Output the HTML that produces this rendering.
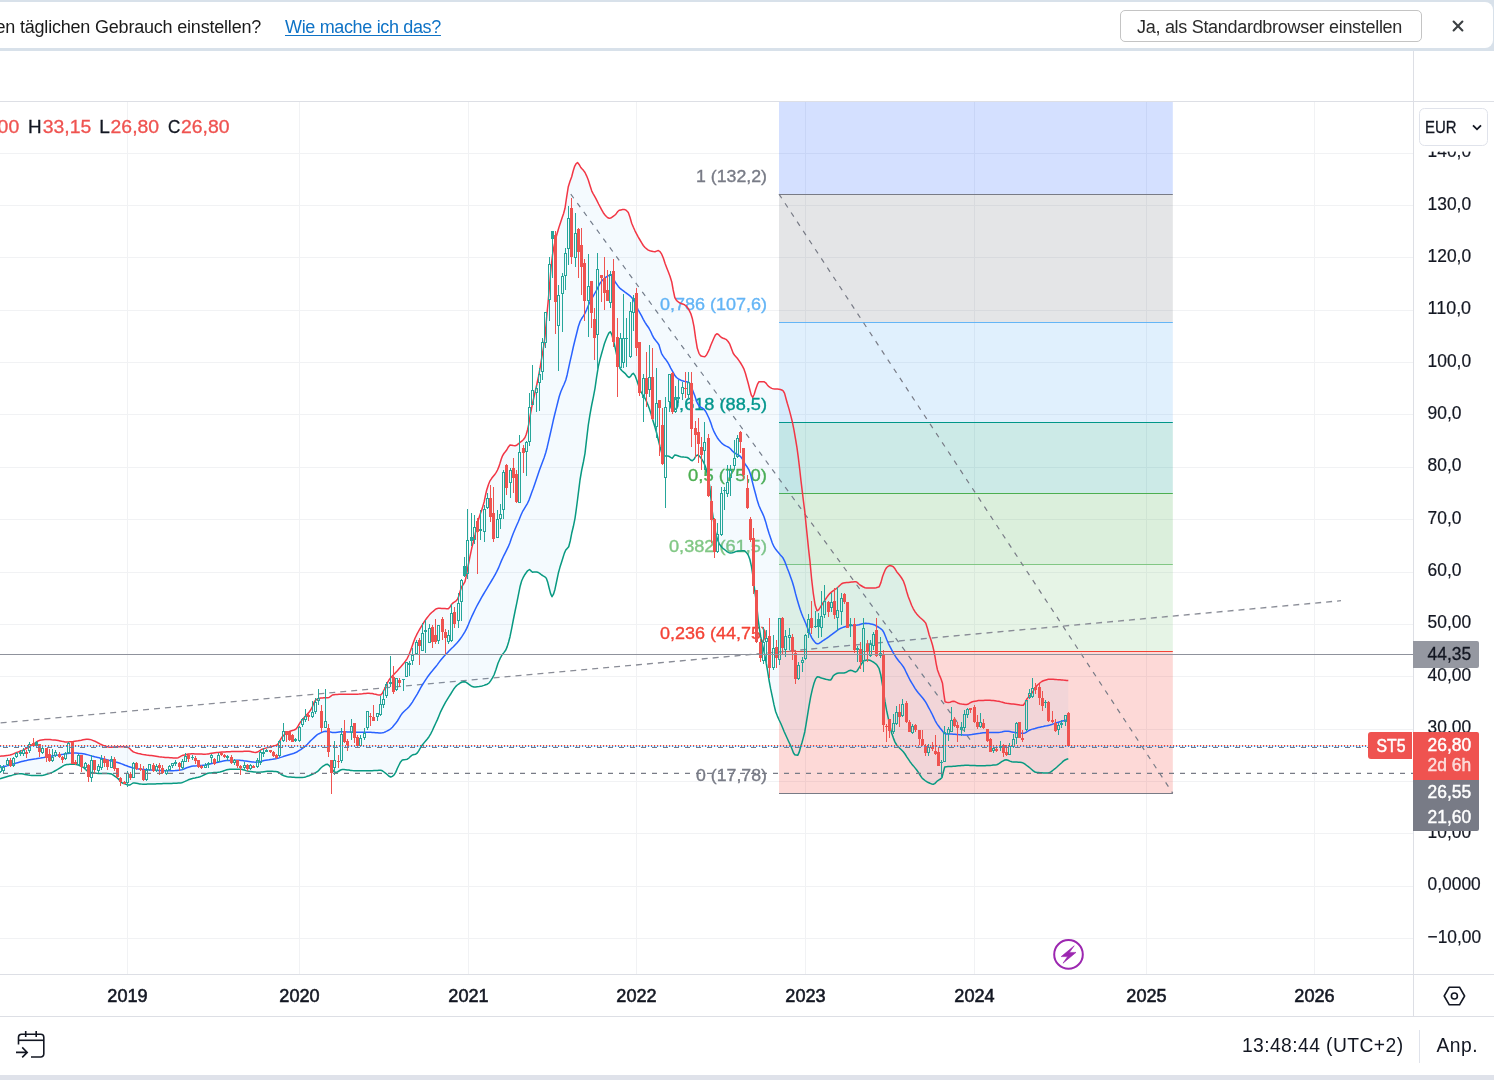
<!DOCTYPE html>
<html lang="de"><head><meta charset="utf-8"><title>ST5 Chart</title>
<style>
html,body{margin:0;padding:0;background:#fff;overflow:hidden;}
body{width:1494px;height:1080px;overflow:hidden;position:relative;font-family:"Liberation Sans", Arial, sans-serif;color:#131722;}
#chart{position:absolute;left:0;top:0;}
#topbar{position:absolute;left:0;top:0;width:1494px;height:51px;background:#d8e1ea;z-index:2;}
#topbar .card{position:absolute;left:-12px;top:2px;width:1505px;height:46px;background:#fff;border-radius:8px;}
#topbar .msg{position:absolute;left:-4.5px;top:15px;font-size:18px;line-height:24px;color:#1b1b1b;white-space:nowrap;letter-spacing:-0.2px;}
#topbar a{position:absolute;left:285px;top:15px;font-size:18px;line-height:24px;color:#0f73c6;text-decoration:underline;white-space:nowrap;text-underline-offset:2px;letter-spacing:-0.34px;}
#topbar .btn{position:absolute;left:1119.5px;top:9.5px;width:300px;height:30.5px;border:1px solid #c4c4c4;border-radius:5px;background:#fff;font-size:18px;line-height:32px;text-align:left;padding-left:0;text-indent:16.6px;color:#2b2b2b;white-space:nowrap;letter-spacing:-0.3px;overflow:hidden;}
#topbar .x{position:absolute;left:1452.2px;top:20.2px;width:12px;height:12px;}
#bottombar{position:absolute;left:0;top:1017px;width:1494px;height:58px;background:#fff;z-index:2;}
#bottombar .clock{position:absolute;right:90.5px;top:17px;font-size:19.3px;line-height:24px;white-space:nowrap;letter-spacing:0.42px;}
#bottombar .sep{position:absolute;left:1419px;top:13px;width:1px;height:33px;background:#e0e3eb;}
#bottombar .anp{position:absolute;left:1436.5px;top:17px;font-size:19.3px;line-height:24px;letter-spacing:0.5px;}
#bottombar svg{position:absolute;left:14px;top:12px;}
#strip{position:absolute;left:0;top:1075px;width:1494px;height:5px;background:#dfe2ea;z-index:2;}
</style></head>
<body>
<svg id="chart" width="1494" height="1080" viewBox="0 0 1494 1080" font-family='"Liberation Sans", Arial, sans-serif'>
<defs>
<clipPath id="pane"><rect x="0" y="101.5" width="1413" height="873.5"/></clipPath>
</defs>
<g id="grid" fill="#f1f2f4" shape-rendering="crispEdges">
<rect x="0" y="153" width="1413" height="1"/>
<rect x="0" y="205" width="1413" height="1"/>
<rect x="0" y="257" width="1413" height="1"/>
<rect x="0" y="310" width="1413" height="1"/>
<rect x="0" y="362" width="1413" height="1"/>
<rect x="0" y="414" width="1413" height="1"/>
<rect x="0" y="467" width="1413" height="1"/>
<rect x="0" y="519" width="1413" height="1"/>
<rect x="0" y="572" width="1413" height="1"/>
<rect x="0" y="624" width="1413" height="1"/>
<rect x="0" y="676" width="1413" height="1"/>
<rect x="0" y="729" width="1413" height="1"/>
<rect x="0" y="781" width="1413" height="1"/>
<rect x="0" y="833" width="1413" height="1"/>
<rect x="0" y="886" width="1413" height="1"/>
<rect x="0" y="938" width="1413" height="1"/>
<rect x="127" y="102" width="1" height="873"/>
<rect x="299" y="102" width="1" height="873"/>
<rect x="468" y="102" width="1" height="873"/>
<rect x="636" y="102" width="1" height="873"/>
<rect x="805" y="102" width="1" height="873"/>
<rect x="974" y="102" width="1" height="873"/>
<rect x="1146" y="102" width="1" height="873"/>
<rect x="1314" y="102" width="1" height="873"/>
</g>
<g id="axis-prices">
<text x="1427.6" y="157.2" font-size="18.2" fill="#131722" stroke="#131722" stroke-width="0.2" textLength="43.5" lengthAdjust="spacingAndGlyphs">140,0</text>
<text x="1427.6" y="209.6" font-size="18.2" fill="#131722" stroke="#131722" stroke-width="0.2" textLength="43.5" lengthAdjust="spacingAndGlyphs">130,0</text>
<text x="1427.6" y="261.9" font-size="18.2" fill="#131722" stroke="#131722" stroke-width="0.2" textLength="43.5" lengthAdjust="spacingAndGlyphs">120,0</text>
<text x="1427.6" y="314.3" font-size="18.2" fill="#131722" stroke="#131722" stroke-width="0.2" textLength="43.5" lengthAdjust="spacingAndGlyphs">110,0</text>
<text x="1427.6" y="366.6" font-size="18.2" fill="#131722" stroke="#131722" stroke-width="0.2" textLength="43.5" lengthAdjust="spacingAndGlyphs">100,0</text>
<text x="1427.6" y="419.0" font-size="18.2" fill="#131722" stroke="#131722" stroke-width="0.2" textLength="33.9" lengthAdjust="spacingAndGlyphs">90,0</text>
<text x="1427.6" y="471.3" font-size="18.2" fill="#131722" stroke="#131722" stroke-width="0.2" textLength="33.9" lengthAdjust="spacingAndGlyphs">80,0</text>
<text x="1427.6" y="523.7" font-size="18.2" fill="#131722" stroke="#131722" stroke-width="0.2" textLength="33.9" lengthAdjust="spacingAndGlyphs">70,0</text>
<text x="1427.6" y="576.0" font-size="18.2" fill="#131722" stroke="#131722" stroke-width="0.2" textLength="33.9" lengthAdjust="spacingAndGlyphs">60,0</text>
<text x="1427.6" y="628.4" font-size="18.2" fill="#131722" stroke="#131722" stroke-width="0.2" textLength="43.5" lengthAdjust="spacingAndGlyphs">50,00</text>
<text x="1427.6" y="680.7" font-size="18.2" fill="#131722" stroke="#131722" stroke-width="0.2" textLength="43.5" lengthAdjust="spacingAndGlyphs">40,00</text>
<text x="1427.6" y="733.1" font-size="18.2" fill="#131722" stroke="#131722" stroke-width="0.2" textLength="43.5" lengthAdjust="spacingAndGlyphs">30,00</text>
<text x="1427.6" y="785.4" font-size="18.2" fill="#131722" stroke="#131722" stroke-width="0.2" textLength="43.5" lengthAdjust="spacingAndGlyphs">20,00</text>
<text x="1427.6" y="837.8" font-size="18.2" fill="#131722" stroke="#131722" stroke-width="0.2" textLength="43.5" lengthAdjust="spacingAndGlyphs">10,00</text>
<text x="1427.6" y="890.1" font-size="18.2" fill="#131722" stroke="#131722" stroke-width="0.2" textLength="53.1" lengthAdjust="spacingAndGlyphs">0,0000</text>
<text x="1427.6" y="942.5" font-size="18.2" fill="#131722" stroke="#131722" stroke-width="0.2" textLength="53.5" lengthAdjust="spacingAndGlyphs">−10,00</text>
</g>
<g clip-path="url(#pane)">
<g id="fib">
<rect x="779" y="101.5" width="393.79999999999995" height="93.0" fill="#2962ff" fill-opacity="0.2"/>
<rect x="779" y="194.5" width="393.79999999999995" height="128.0" fill="#787b86" fill-opacity="0.2"/>
<rect x="779" y="322.5" width="393.79999999999995" height="100.0" fill="#64b5f6" fill-opacity="0.2"/>
<rect x="779" y="422.5" width="393.79999999999995" height="71.0" fill="#009688" fill-opacity="0.2"/>
<rect x="779" y="493.5" width="393.79999999999995" height="71.0" fill="#4caf50" fill-opacity="0.2"/>
<rect x="779" y="564.5" width="393.79999999999995" height="87.0" fill="#81c784" fill-opacity="0.2"/>
<rect x="779" y="651.5" width="393.79999999999995" height="142.0" fill="#f44336" fill-opacity="0.2"/>
<line x1="779" y1="194.5" x2="1172.8" y2="194.5" stroke="#787b86" stroke-width="1.1"/>
<line x1="779" y1="322.5" x2="1172.8" y2="322.5" stroke="#64b5f6" stroke-width="1.1"/>
<line x1="779" y1="422.5" x2="1172.8" y2="422.5" stroke="#009688" stroke-width="1.1"/>
<line x1="779" y1="493.5" x2="1172.8" y2="493.5" stroke="#4caf50" stroke-width="1.1"/>
<line x1="779" y1="564.5" x2="1172.8" y2="564.5" stroke="#81c784" stroke-width="1.1"/>
<line x1="779" y1="651.5" x2="1172.8" y2="651.5" stroke="#f44336" stroke-width="1.1"/>
<line x1="779" y1="793.5" x2="1172.8" y2="793.5" stroke="#787b86" stroke-width="1.1"/>
<line x1="779" y1="194.1" x2="1172.8" y2="793.3" stroke="#787b86" stroke-width="1.2" stroke-dasharray="5 6"/>
<line x1="570.8" y1="194.2" x2="971" y2="741" stroke="#787b86" stroke-width="1.2" stroke-dasharray="5 6"/>
<line x1="-43.2" y1="726.9" x2="1341" y2="600.7" stroke="#8a8d97" stroke-width="1.3" stroke-dasharray="6 5"/>
<text x="767" y="182.2" text-anchor="end" fill="#787b86" font-size="16.8" stroke="#787b86" stroke-width="0.35" textLength="71" lengthAdjust="spacingAndGlyphs">1 (132,2)</text>
<text x="767" y="310.2" text-anchor="end" fill="#64b5f6" font-size="16.8" stroke="#64b5f6" stroke-width="0.35" textLength="107" lengthAdjust="spacingAndGlyphs">0,786 (107,6)</text>
<text x="767" y="410.2" text-anchor="end" fill="#009688" font-size="16.8" stroke="#009688" stroke-width="0.35" textLength="98" lengthAdjust="spacingAndGlyphs">0,618 (88,5)</text>
<text x="767" y="480.8" text-anchor="end" fill="#4caf50" font-size="16.8" stroke="#4caf50" stroke-width="0.35" textLength="79" lengthAdjust="spacingAndGlyphs">0,5 (75,0)</text>
<text x="767" y="552.2" text-anchor="end" fill="#81c784" font-size="16.8" stroke="#81c784" stroke-width="0.35" textLength="98" lengthAdjust="spacingAndGlyphs">0,382 (61,5)</text>
<text x="767" y="638.6" text-anchor="end" fill="#f44336" font-size="16.8" stroke="#f44336" stroke-width="0.35" textLength="107" lengthAdjust="spacingAndGlyphs">0,236 (44,75)</text>
<text x="767" y="781.2" text-anchor="end" fill="#787b86" font-size="16.8" stroke="#787b86" stroke-width="0.35" textLength="71" lengthAdjust="spacingAndGlyphs">0 (17,78)</text>
</g>
<path id="bb-fill" d="M0.0 756.3 L1.7 756.1 L3.3 755.9 L5.0 755.7 L6.7 755.5 L8.3 755.3 L10.0 755.0 L11.7 754.5 L13.3 753.9 L15.0 753.2 L16.7 752.5 L18.4 751.9 L20.0 751.2 L21.7 750.6 L23.4 749.9 L25.0 749.1 L26.7 748.3 L28.3 747.4 L29.9 746.3 L31.4 745.2 L33.0 744.2 L34.8 743.1 L36.5 741.9 L38.2 740.9 L40.0 740.3 L41.7 740.0 L43.4 739.7 L45.0 739.6 L46.7 739.5 L48.4 739.5 L50.0 739.6 L51.7 739.8 L53.4 739.9 L55.0 740.1 L56.7 740.3 L58.4 740.6 L60.0 740.9 L61.7 741.3 L63.4 741.6 L65.0 741.9 L66.7 742.0 L68.3 742.0 L69.9 741.8 L71.5 741.7 L73.2 741.5 L74.8 741.2 L76.4 741.0 L78.0 740.8 L79.7 740.5 L81.3 740.2 L83.0 739.8 L84.7 739.5 L86.3 739.3 L88.0 739.2 L89.8 739.4 L91.5 739.9 L93.2 740.6 L95.0 741.3 L96.7 742.1 L98.3 743.0 L100.0 743.9 L101.7 744.7 L103.4 745.4 L105.0 746.0 L106.7 746.6 L108.3 747.0 L110.0 747.2 L111.7 747.2 L113.3 747.1 L115.0 747.0 L116.7 746.8 L118.3 746.7 L120.0 746.7 L121.5 746.7 L123.0 746.7 L124.5 746.8 L126.0 746.9 L127.5 747.0 L129.3 748.1 L131.2 750.2 L133.0 751.7 L134.7 752.4 L136.5 753.0 L138.2 753.5 L140.0 753.8 L141.7 754.2 L143.3 754.5 L144.9 754.7 L146.5 755.0 L148.2 755.2 L149.8 755.4 L151.4 755.6 L153.0 755.8 L154.5 756.0 L156.0 756.2 L157.6 756.4 L159.1 756.7 L160.6 756.9 L162.1 757.1 L163.7 757.2 L165.2 757.4 L166.7 757.5 L168.4 757.6 L170.0 757.7 L171.7 757.8 L173.4 757.9 L175.0 758.0 L176.7 758.0 L178.3 757.7 L179.8 756.8 L181.4 755.9 L183.0 755.3 L184.7 754.9 L186.5 754.5 L188.2 754.1 L190.0 753.9 L191.7 753.8 L193.4 753.8 L195.0 753.9 L196.7 753.9 L198.3 754.0 L200.0 754.1 L201.7 754.1 L203.3 754.2 L205.0 754.2 L206.7 754.1 L208.3 753.9 L210.0 753.6 L211.7 753.3 L213.4 753.0 L215.0 752.7 L216.7 752.5 L218.4 752.4 L220.0 752.2 L221.7 752.1 L223.3 752.0 L225.0 751.9 L226.7 751.8 L228.3 751.8 L230.0 751.7 L231.6 751.6 L233.2 751.6 L234.8 751.6 L236.3 751.5 L237.9 751.5 L239.5 751.4 L241.1 751.4 L242.7 751.4 L244.2 751.3 L245.8 751.3 L247.4 751.3 L249.0 751.3 L250.7 751.5 L252.3 751.9 L254.0 752.3 L255.7 752.5 L257.4 752.1 L259.0 751.2 L260.6 750.1 L262.3 749.2 L264.0 748.6 L265.7 748.1 L267.3 747.6 L269.0 747.2 L270.7 746.7 L272.4 746.3 L274.0 745.9 L275.6 745.4 L277.3 744.7 L279.0 742.6 L280.6 739.3 L282.3 736.7 L284.0 735.1 L285.6 733.7 L287.3 732.6 L289.0 731.7 L290.7 731.0 L292.4 730.5 L294.0 730.0 L295.7 729.2 L297.4 727.3 L299.0 724.4 L300.7 721.7 L302.4 719.6 L304.0 717.7 L305.7 715.8 L307.4 714.0 L309.0 712.2 L310.7 710.0 L312.4 706.6 L314.0 702.5 L315.7 700.0 L317.4 699.0 L319.0 698.4 L320.7 698.0 L322.4 697.9 L324.0 697.8 L325.7 697.7 L327.3 697.7 L329.0 697.5 L330.6 696.3 L332.3 695.0 L334.0 694.7 L335.6 694.5 L337.3 694.4 L339.0 694.3 L340.6 694.2 L342.3 694.2 L344.0 694.2 L345.6 694.2 L347.3 694.2 L349.0 694.2 L350.7 694.2 L352.4 694.2 L354.0 694.2 L355.7 694.2 L357.4 694.2 L359.0 694.1 L360.7 693.9 L362.4 693.8 L364.0 693.6 L365.7 693.4 L367.3 693.3 L369.0 693.3 L370.7 693.4 L372.3 693.6 L374.0 694.0 L375.7 694.3 L377.4 694.7 L379.0 694.9 L380.7 695.0 L382.4 693.2 L384.0 690.0 L385.7 686.7 L387.3 683.0 L389.0 680.0 L390.7 677.8 L392.4 676.0 L394.0 674.3 L395.7 672.5 L397.4 670.7 L399.0 668.8 L400.6 667.0 L402.3 665.0 L404.0 663.0 L405.6 660.9 L407.3 658.3 L409.1 654.5 L410.8 650.0 L412.2 646.1 L413.6 642.0 L415.0 638.3 L416.7 634.7 L418.4 631.5 L420.0 628.6 L421.7 625.8 L423.4 623.1 L425.0 620.6 L426.7 618.3 L428.4 616.1 L430.0 614.1 L431.7 612.5 L433.4 611.1 L435.0 609.7 L436.6 608.7 L438.3 608.3 L440.0 608.3 L441.6 608.4 L443.3 608.5 L445.0 608.6 L446.6 608.7 L448.3 608.7 L450.0 606.9 L451.7 604.2 L453.1 602.9 L454.6 601.9 L456.1 600.8 L457.5 599.2 L458.9 595.7 L460.3 590.7 L461.7 586.7 L463.4 584.3 L465.0 581.7 L466.6 574.4 L468.3 565.0 L470.0 556.4 L471.7 548.3 L473.4 541.6 L475.0 535.0 L476.6 527.2 L478.3 520.0 L480.0 514.8 L481.7 510.0 L482.9 506.1 L484.2 501.7 L485.4 495.7 L486.7 490.0 L488.4 484.7 L490.0 480.8 L491.7 478.3 L493.3 476.3 L495.0 474.2 L496.2 472.3 L497.5 470.0 L498.8 466.9 L500.0 463.3 L501.2 459.3 L502.5 455.8 L503.9 453.5 L505.3 451.8 L506.7 450.0 L508.4 446.9 L510.0 445.0 L511.7 445.2 L513.3 445.6 L515.0 445.8 L516.7 445.2 L518.3 443.9 L520.0 442.5 L521.7 441.2 L523.3 439.7 L525.0 437.5 L526.2 434.5 L527.5 430.0 L528.8 423.8 L530.0 416.7 L531.6 408.2 L533.3 400.0 L535.0 392.5 L536.7 385.0 L538.4 377.0 L540.0 368.3 L541.2 361.0 L542.5 353.3 L543.8 345.7 L545.0 336.7 L546.7 316.7 L548.3 300.0 L550.0 280.0 L551.2 266.2 L552.5 255.0 L553.9 246.9 L555.3 240.5 L556.7 235.0 L558.1 230.2 L559.4 225.9 L560.8 221.7 L562.2 217.6 L563.6 213.5 L565.0 208.3 L566.6 197.4 L568.3 186.7 L570.0 181.3 L571.7 176.7 L573.1 171.3 L574.5 166.7 L576.0 163.8 L577.5 162.5 L579.1 164.4 L580.8 167.5 L582.2 169.1 L583.6 170.6 L585.0 172.5 L586.6 175.8 L588.3 180.0 L590.0 185.5 L591.7 190.8 L593.1 193.6 L594.4 195.9 L595.8 198.3 L597.2 201.1 L598.6 204.0 L600.0 206.7 L601.7 209.8 L603.3 212.7 L605.0 215.0 L606.4 216.5 L607.8 217.8 L609.2 218.3 L610.7 218.0 L612.1 217.2 L613.5 216.1 L615.0 215.0 L616.4 213.4 L617.8 211.5 L619.2 210.3 L620.9 209.9 L622.5 209.6 L624.2 209.5 L625.6 209.9 L626.9 211.0 L628.3 212.5 L630.0 217.3 L631.7 223.3 L633.4 227.3 L635.0 230.8 L636.7 234.1 L638.3 237.1 L640.0 240.0 L641.7 242.8 L643.3 245.5 L645.0 247.5 L646.7 248.9 L648.3 250.1 L650.0 250.8 L651.7 251.2 L653.3 251.6 L655.0 251.7 L656.6 251.1 L658.3 250.5 L660.0 251.7 L661.7 254.2 L663.4 258.3 L665.0 263.3 L666.6 267.5 L668.3 271.7 L670.0 276.2 L671.7 281.7 L673.2 290.0 L674.8 297.5 L676.2 299.9 L677.6 301.4 L679.0 302.5 L680.5 303.2 L681.9 303.7 L683.3 304.2 L684.8 305.0 L686.3 306.2 L687.8 308.0 L689.2 310.4 L690.7 313.3 L692.4 318.8 L694.0 326.7 L695.6 338.2 L697.3 348.3 L699.0 353.3 L700.7 355.8 L702.1 356.3 L703.4 356.6 L704.8 356.7 L706.5 355.0 L708.2 351.7 L709.6 348.6 L710.9 345.0 L712.3 341.7 L713.8 338.3 L715.3 335.1 L716.8 333.7 L718.4 334.5 L719.9 336.1 L721.5 337.5 L723.2 338.2 L724.8 338.8 L726.5 339.7 L728.1 341.5 L729.8 344.2 L731.5 348.8 L733.2 353.3 L734.6 355.2 L735.9 356.7 L737.3 358.3 L739.0 360.6 L740.6 363.0 L742.3 365.8 L744.0 369.2 L745.4 373.2 L746.8 378.3 L748.2 383.3 L749.7 389.2 L751.2 394.9 L752.7 397.5 L754.2 394.3 L755.7 389.2 L757.4 384.4 L759.0 381.7 L760.7 381.7 L762.3 381.7 L764.0 381.7 L765.7 382.8 L767.3 384.9 L769.0 386.7 L770.4 387.6 L771.8 388.4 L773.2 388.8 L774.7 388.9 L776.1 389.0 L777.5 389.1 L779.0 389.2 L780.4 389.5 L781.8 390.0 L783.2 390.8 L784.6 393.4 L785.9 398.2 L787.3 403.3 L789.0 408.9 L790.6 414.9 L792.3 421.7 L794.0 430.2 L795.7 440.0 L797.0 447.9 L798.2 456.7 L799.8 470.0 L801.0 480.9 L802.3 491.7 L803.5 501.5 L804.8 511.7 L806.0 524.0 L807.3 536.7 L808.6 549.3 L810.0 561.7 L811.6 578.8 L813.3 593.3 L815.1 605.0 L817.0 610.8 L818.6 609.9 L820.1 607.7 L821.7 605.0 L823.3 602.5 L825.0 600.1 L826.6 597.6 L828.3 595.2 L830.0 593.3 L831.7 591.9 L833.4 590.6 L835.0 589.5 L836.7 588.3 L838.4 586.8 L840.0 585.2 L841.6 583.8 L843.3 583.0 L845.0 582.7 L846.6 582.5 L848.3 582.4 L850.0 582.2 L851.5 582.0 L852.9 581.9 L854.3 581.8 L855.8 581.7 L857.2 582.4 L858.6 583.8 L860.0 585.0 L861.7 586.0 L863.4 587.0 L865.0 587.7 L866.7 588.0 L868.4 588.0 L870.0 588.0 L871.6 588.0 L873.3 588.0 L874.8 587.9 L876.2 587.7 L877.7 587.3 L879.2 586.7 L880.9 582.6 L882.5 576.7 L883.9 573.0 L885.3 569.7 L886.7 567.5 L888.4 566.1 L890.0 565.5 L891.6 565.9 L893.3 566.7 L895.0 568.8 L896.7 571.7 L898.4 573.8 L900.0 575.8 L901.6 578.0 L903.3 580.8 L905.0 585.4 L906.6 591.3 L908.3 596.7 L910.0 601.1 L911.6 605.2 L913.3 608.8 L915.0 611.7 L916.7 613.9 L918.3 615.8 L920.0 617.5 L921.5 618.8 L922.9 620.0 L924.3 621.4 L925.8 623.3 L927.5 628.5 L929.2 635.0 L930.9 639.8 L932.5 645.0 L933.8 650.5 L935.0 656.7 L936.2 663.8 L937.5 670.0 L939.2 674.6 L940.8 678.2 L942.5 683.3 L943.8 693.6 L945.0 701.7 L946.6 702.3 L948.3 702.5 L950.0 702.2 L951.6 701.6 L953.3 701.3 L955.0 701.6 L956.6 702.4 L958.3 703.2 L960.0 703.7 L961.7 704.0 L963.4 704.2 L965.0 704.4 L966.7 704.5 L968.4 704.0 L970.0 702.9 L971.7 702.0 L973.4 701.6 L975.0 701.2 L976.7 700.9 L978.3 700.6 L980.0 700.5 L981.7 700.4 L983.3 700.4 L985.0 700.3 L986.6 700.3 L988.3 700.3 L990.0 700.3 L991.6 700.5 L993.3 700.6 L995.0 700.8 L996.6 701.1 L998.3 701.3 L1000.0 701.6 L1001.7 702.1 L1003.3 702.5 L1005.0 703.0 L1006.7 703.3 L1008.4 703.5 L1010.0 703.7 L1011.7 703.9 L1013.3 704.0 L1015.0 704.2 L1016.7 704.4 L1018.3 704.7 L1020.0 705.0 L1021.6 705.2 L1023.3 705.3 L1025.0 702.9 L1026.7 699.2 L1028.4 697.1 L1030.0 695.3 L1031.7 693.3 L1033.2 691.2 L1034.6 688.9 L1036.0 686.7 L1037.5 685.0 L1039.0 683.7 L1040.4 682.5 L1041.8 681.5 L1043.3 680.8 L1045.0 680.2 L1046.7 679.7 L1048.3 679.3 L1050.0 679.2 L1051.7 679.2 L1053.3 679.3 L1055.0 679.4 L1056.6 679.6 L1058.3 679.7 L1060.0 679.8 L1061.6 679.9 L1063.3 680.1 L1065.0 680.2 L1066.6 680.4 L1068.3 680.5 L1068.3 758.8 L1066.7 759.3 L1065.0 760.0 L1063.3 761.1 L1061.7 762.7 L1060.0 764.2 L1058.3 765.7 L1056.7 767.2 L1055.0 768.7 L1053.3 770.0 L1051.6 771.3 L1050.0 772.5 L1048.3 773.0 L1046.6 773.0 L1045.0 773.0 L1043.3 772.9 L1041.7 772.8 L1040.0 772.7 L1038.4 772.6 L1036.7 772.5 L1035.0 772.0 L1033.3 770.9 L1031.7 769.5 L1030.0 768.0 L1028.3 766.7 L1026.7 765.5 L1025.0 764.2 L1023.4 763.1 L1021.7 762.5 L1020.0 762.3 L1018.4 762.2 L1016.7 762.1 L1015.0 762.0 L1013.4 761.9 L1011.7 761.7 L1009.9 761.1 L1008.0 760.2 L1006.2 759.7 L1004.7 760.0 L1003.2 760.8 L1001.7 761.7 L1000.0 762.8 L998.4 764.0 L996.7 764.7 L995.0 764.9 L993.4 765.1 L991.7 765.3 L990.0 765.4 L988.4 765.5 L986.7 765.6 L985.0 765.7 L983.3 765.8 L981.7 765.8 L980.0 765.8 L978.3 765.8 L976.7 765.7 L975.0 765.6 L973.4 765.5 L971.7 765.5 L970.0 765.4 L968.4 765.3 L966.7 765.3 L965.0 765.3 L963.4 765.4 L961.7 765.5 L960.0 765.7 L958.3 765.8 L956.6 766.0 L955.0 766.2 L953.3 766.3 L951.6 766.4 L949.9 766.5 L948.1 766.6 L946.4 766.7 L944.7 767.0 L943.4 771.9 L942.0 777.5 L940.5 779.0 L939.0 779.9 L937.5 780.8 L936.1 782.2 L934.7 783.6 L933.3 784.2 L931.6 783.9 L930.0 783.3 L928.3 782.5 L926.6 781.6 L925.0 780.5 L923.3 779.2 L921.6 777.4 L920.0 775.0 L918.4 772.4 L916.7 770.0 L915.0 767.9 L913.4 765.9 L911.7 763.9 L910.0 761.7 L908.3 759.2 L906.6 756.6 L905.0 754.0 L903.3 751.7 L901.6 750.0 L900.0 748.5 L898.4 747.0 L896.7 745.0 L895.0 742.1 L893.4 738.1 L891.7 733.3 L890.0 726.5 L888.3 718.3 L886.6 710.4 L885.0 701.7 L883.8 693.3 L882.5 685.0 L880.8 675.0 L879.0 668.3 L877.3 665.6 L875.7 663.8 L874.0 662.5 L872.5 661.6 L871.1 660.8 L869.7 660.2 L868.2 660.0 L866.8 660.1 L865.4 660.4 L864.0 660.8 L862.6 662.1 L861.2 664.4 L859.8 666.7 L858.4 668.9 L857.1 671.0 L855.7 672.0 L854.0 671.6 L852.4 670.7 L850.7 670.3 L849.0 670.7 L847.4 671.6 L845.7 672.6 L844.0 673.0 L842.3 673.0 L840.7 673.0 L839.0 673.0 L837.5 673.2 L836.1 673.8 L834.7 674.7 L833.2 675.8 L832.0 678.2 L830.7 680.0 L829.0 679.9 L827.3 679.6 L825.7 679.2 L824.0 678.7 L822.3 678.3 L820.6 677.7 L819.0 677.0 L817.3 676.7 L815.6 678.9 L814.0 683.3 L812.4 689.1 L810.7 696.7 L809.0 706.2 L807.3 716.7 L806.0 724.6 L804.8 731.7 L803.4 737.4 L802.1 742.3 L800.7 746.7 L799.2 752.2 L797.7 755.3 L796.2 755.1 L794.8 754.7 L793.4 752.8 L792.1 749.3 L790.7 745.8 L789.0 742.2 L787.4 738.7 L785.7 735.0 L784.0 731.2 L782.4 727.2 L780.7 723.3 L779.0 719.7 L777.4 716.1 L775.7 711.7 L774.0 704.9 L772.3 696.7 L770.6 688.7 L769.0 680.0 L767.4 669.9 L765.7 660.0 L764.5 653.8 L763.2 648.0 L762.0 642.6 L760.7 636.7 L759.5 629.2 L758.2 620.0 L756.5 603.3 L755.2 593.8 L754.0 585.0 L752.8 575.1 L751.5 566.7 L749.9 559.5 L748.2 555.0 L746.8 552.9 L745.4 551.4 L744.0 550.8 L742.3 550.8 L740.6 550.9 L739.0 551.0 L737.3 551.2 L735.6 551.6 L734.0 552.2 L732.4 552.7 L730.7 553.0 L729.0 552.7 L727.4 551.8 L725.7 550.5 L724.0 549.2 L722.3 547.7 L720.7 545.8 L719.0 543.3 L717.4 539.3 L715.7 533.3 L714.0 524.1 L712.3 511.7 L711.0 498.9 L709.8 486.7 L708.1 476.9 L706.5 470.0 L705.1 465.8 L703.7 462.5 L702.3 460.0 L700.6 457.6 L699.0 455.8 L697.3 455.0 L695.6 456.5 L694.0 459.3 L692.3 460.8 L690.6 460.0 L689.0 458.5 L687.3 457.5 L685.6 457.2 L684.0 457.1 L682.4 456.9 L680.7 456.7 L679.2 456.3 L677.8 455.7 L676.3 455.2 L674.8 455.0 L673.5 456.6 L672.3 458.3 L670.6 457.4 L669.0 456.3 L667.6 456.1 L666.1 456.1 L664.7 456.0 L663.3 455.8 L661.6 452.5 L660.0 446.7 L658.4 440.2 L656.7 433.3 L655.0 427.3 L653.3 421.7 L651.9 417.0 L650.6 412.4 L649.2 408.3 L647.8 404.6 L646.4 401.3 L645.0 398.3 L643.3 395.5 L641.7 393.0 L640.0 390.0 L638.4 385.1 L636.7 380.0 L635.0 375.6 L633.3 373.3 L631.9 374.4 L630.6 376.4 L629.2 377.5 L627.8 376.7 L626.4 375.0 L625.0 373.3 L623.3 371.9 L621.7 370.5 L620.0 368.3 L618.4 362.7 L616.7 355.0 L615.0 347.1 L613.3 340.0 L611.8 334.6 L610.3 331.7 L608.8 333.1 L607.3 336.3 L605.8 340.0 L604.4 343.8 L603.1 348.4 L601.7 353.3 L600.0 359.4 L598.3 366.7 L596.6 377.2 L595.0 388.3 L593.4 396.8 L591.7 405.0 L590.0 414.3 L588.3 425.0 L586.6 439.4 L585.0 453.3 L583.4 462.0 L581.7 470.0 L580.0 480.0 L578.8 489.7 L577.5 500.0 L576.2 509.8 L575.0 518.3 L573.4 526.3 L571.7 533.3 L570.2 541.0 L568.7 546.7 L567.2 548.4 L565.8 550.0 L564.4 553.1 L563.1 557.3 L561.7 561.7 L560.0 567.1 L558.3 573.3 L556.6 581.5 L555.0 589.2 L553.5 594.2 L552.0 596.7 L550.6 593.6 L549.2 588.3 L547.8 582.6 L546.3 578.3 L544.8 576.8 L543.2 575.9 L541.7 575.0 L540.0 573.7 L538.4 572.5 L536.7 572.0 L535.3 572.1 L533.9 572.1 L532.5 572.2 L531.0 570.9 L529.5 569.5 L527.6 570.8 L525.8 573.3 L524.4 575.3 L523.1 577.7 L521.7 580.8 L520.0 586.8 L518.4 594.9 L516.7 603.3 L515.0 611.5 L513.3 620.0 L511.6 628.8 L510.0 636.7 L508.6 642.0 L507.2 646.6 L505.8 650.0 L503.9 652.6 L502.0 655.0 L500.0 658.7 L498.0 663.3 L496.0 669.4 L494.0 675.0 L492.3 678.1 L490.6 680.9 L489.0 683.0 L487.3 684.2 L485.6 684.8 L484.0 685.4 L482.3 685.9 L480.6 686.3 L479.0 686.6 L477.3 686.8 L475.7 687.0 L474.0 687.0 L472.3 686.6 L470.7 685.6 L469.0 684.4 L467.3 683.1 L465.7 682.1 L464.0 681.7 L462.3 682.0 L460.6 682.7 L459.0 683.8 L457.3 685.0 L455.6 686.6 L454.0 688.7 L452.3 691.3 L450.7 694.0 L449.0 696.7 L447.3 699.4 L445.6 702.2 L444.0 705.1 L442.3 708.3 L440.6 711.8 L439.0 715.7 L437.4 719.6 L435.7 723.3 L434.0 726.9 L432.4 730.5 L430.7 733.8 L429.0 736.7 L427.3 739.0 L425.6 741.0 L424.0 742.9 L422.3 745.0 L420.6 747.5 L419.0 750.4 L417.4 752.8 L415.7 754.2 L414.0 754.6 L412.3 755.0 L410.6 756.3 L409.0 758.0 L407.3 759.2 L405.6 759.5 L404.0 759.7 L402.3 760.0 L400.6 761.9 L399.0 765.0 L397.3 768.5 L395.7 772.4 L394.0 775.0 L392.4 776.4 L390.7 777.0 L389.0 776.3 L387.4 774.8 L385.7 773.3 L384.0 772.0 L382.4 770.8 L380.7 770.3 L379.0 770.3 L377.4 770.4 L375.7 770.5 L374.0 770.6 L372.3 770.7 L370.7 770.8 L369.0 770.8 L367.3 770.8 L365.7 770.8 L364.0 770.8 L362.4 770.8 L360.7 770.8 L359.0 770.8 L357.4 770.8 L355.7 770.8 L354.0 770.7 L352.4 770.6 L350.7 770.4 L349.0 770.1 L347.3 769.9 L345.6 769.7 L344.0 769.6 L342.3 769.5 L340.6 770.0 L339.0 771.0 L337.4 772.0 L335.7 772.5 L334.0 771.6 L332.4 769.5 L330.7 767.5 L329.0 765.4 L327.3 764.2 L325.6 764.6 L324.0 765.6 L322.3 766.7 L320.6 768.2 L319.0 770.1 L317.3 771.7 L315.6 772.7 L314.0 773.6 L312.4 774.3 L310.7 775.0 L309.0 775.7 L307.3 776.3 L305.7 776.9 L304.0 777.3 L302.3 777.5 L300.6 777.5 L299.0 777.5 L297.3 777.4 L295.6 777.4 L294.0 777.3 L292.3 777.2 L290.7 777.1 L289.0 777.0 L287.3 776.8 L285.6 776.3 L284.0 775.7 L282.3 775.0 L280.6 773.9 L279.0 772.5 L277.3 771.7 L275.6 771.5 L274.0 771.4 L272.3 771.3 L270.7 771.2 L269.0 771.2 L267.3 771.3 L265.7 771.5 L264.0 771.7 L262.3 771.9 L260.7 772.1 L259.0 772.2 L257.3 772.2 L255.7 772.1 L254.0 771.9 L252.3 771.7 L250.7 771.5 L249.0 771.3 L247.5 771.0 L246.0 770.6 L244.5 770.1 L243.0 769.7 L241.5 769.3 L240.0 769.2 L238.3 769.2 L236.7 769.2 L235.0 769.2 L233.3 769.2 L231.7 769.2 L230.0 769.2 L228.3 769.4 L226.7 769.8 L225.0 770.4 L223.3 771.0 L221.7 771.6 L220.0 772.0 L218.5 772.2 L217.0 772.4 L215.5 772.5 L214.0 772.6 L212.5 772.7 L211.0 772.9 L209.5 773.1 L208.0 773.3 L206.4 773.8 L204.8 774.5 L203.2 775.3 L201.6 776.1 L200.0 776.7 L198.3 777.2 L196.7 777.6 L195.0 778.0 L193.3 778.3 L191.7 778.7 L190.0 779.2 L188.3 779.8 L186.7 780.6 L185.0 781.4 L183.3 782.1 L181.7 782.7 L180.0 783.0 L178.3 783.1 L176.7 783.2 L175.0 783.3 L173.3 783.3 L171.7 783.4 L170.0 783.4 L168.3 783.5 L166.7 783.5 L165.0 783.6 L163.3 783.6 L161.7 783.7 L160.0 783.7 L158.5 783.8 L156.9 783.8 L155.4 783.9 L153.8 783.9 L152.3 784.0 L150.7 784.0 L149.2 784.1 L147.6 784.1 L146.1 784.2 L144.5 784.2 L143.0 784.2 L141.3 784.1 L139.7 783.9 L138.0 783.6 L136.3 783.3 L134.7 783.1 L133.0 783.0 L131.5 784.0 L130.0 785.0 L128.2 784.9 L126.5 784.5 L124.8 783.9 L123.0 783.3 L121.4 782.3 L119.8 780.6 L118.3 778.9 L116.7 777.5 L115.0 776.3 L113.3 775.1 L111.7 774.1 L110.0 773.7 L108.3 773.6 L106.7 773.6 L105.0 773.5 L103.3 773.5 L101.7 773.5 L100.0 773.4 L98.4 773.4 L96.7 773.3 L95.0 773.1 L93.2 772.8 L91.5 772.4 L89.7 771.9 L88.0 771.3 L86.4 770.3 L84.8 768.8 L83.3 767.3 L81.7 766.3 L80.0 765.7 L78.2 765.1 L76.5 764.6 L74.7 764.3 L73.0 764.2 L71.4 764.2 L69.8 764.3 L68.3 764.4 L66.7 764.5 L65.0 764.9 L63.2 765.8 L61.5 767.0 L59.7 768.1 L58.0 769.2 L56.4 770.1 L54.8 771.0 L53.2 771.9 L51.6 772.7 L50.0 773.3 L48.3 773.8 L46.7 774.3 L45.0 774.8 L43.3 775.2 L41.7 775.4 L40.0 775.5 L38.3 775.5 L36.7 775.5 L35.0 775.4 L33.3 775.4 L31.7 775.4 L30.0 775.3 L28.3 775.1 L26.7 774.8 L25.0 774.5 L23.3 774.1 L21.7 773.8 L20.0 773.7 L18.3 773.8 L16.7 774.1 L15.0 774.4 L13.3 774.9 L11.7 775.4 L10.0 775.8 L8.3 776.2 L6.7 776.7 L5.0 777.2 L3.3 777.7 L1.7 778.2 L0.0 778.7Z" fill="#2196f3" fill-opacity="0.05"/>
<polyline id="bb-upper" points="0.0,756.3 1.7,756.1 3.3,755.9 5.0,755.7 6.7,755.5 8.3,755.3 10.0,755.0 11.7,754.5 13.3,753.9 15.0,753.2 16.7,752.5 18.4,751.9 20.0,751.2 21.7,750.6 23.4,749.9 25.0,749.1 26.7,748.3 28.3,747.4 29.9,746.3 31.4,745.2 33.0,744.2 34.8,743.1 36.5,741.9 38.2,740.9 40.0,740.3 41.7,740.0 43.4,739.7 45.0,739.6 46.7,739.5 48.4,739.5 50.0,739.6 51.7,739.8 53.4,739.9 55.0,740.1 56.7,740.3 58.4,740.6 60.0,740.9 61.7,741.3 63.4,741.6 65.0,741.9 66.7,742.0 68.3,742.0 69.9,741.8 71.5,741.7 73.2,741.5 74.8,741.2 76.4,741.0 78.0,740.8 79.7,740.5 81.3,740.2 83.0,739.8 84.7,739.5 86.3,739.3 88.0,739.2 89.8,739.4 91.5,739.9 93.2,740.6 95.0,741.3 96.7,742.1 98.3,743.0 100.0,743.9 101.7,744.7 103.4,745.4 105.0,746.0 106.7,746.6 108.3,747.0 110.0,747.2 111.7,747.2 113.3,747.1 115.0,747.0 116.7,746.8 118.3,746.7 120.0,746.7 121.5,746.7 123.0,746.7 124.5,746.8 126.0,746.9 127.5,747.0 129.3,748.1 131.2,750.2 133.0,751.7 134.7,752.4 136.5,753.0 138.2,753.5 140.0,753.8 141.7,754.2 143.3,754.5 144.9,754.7 146.5,755.0 148.2,755.2 149.8,755.4 151.4,755.6 153.0,755.8 154.5,756.0 156.0,756.2 157.6,756.4 159.1,756.7 160.6,756.9 162.1,757.1 163.7,757.2 165.2,757.4 166.7,757.5 168.4,757.6 170.0,757.7 171.7,757.8 173.4,757.9 175.0,758.0 176.7,758.0 178.3,757.7 179.8,756.8 181.4,755.9 183.0,755.3 184.7,754.9 186.5,754.5 188.2,754.1 190.0,753.9 191.7,753.8 193.4,753.8 195.0,753.9 196.7,753.9 198.3,754.0 200.0,754.1 201.7,754.1 203.3,754.2 205.0,754.2 206.7,754.1 208.3,753.9 210.0,753.6 211.7,753.3 213.4,753.0 215.0,752.7 216.7,752.5 218.4,752.4 220.0,752.2 221.7,752.1 223.3,752.0 225.0,751.9 226.7,751.8 228.3,751.8 230.0,751.7 231.6,751.6 233.2,751.6 234.8,751.6 236.3,751.5 237.9,751.5 239.5,751.4 241.1,751.4 242.7,751.4 244.2,751.3 245.8,751.3 247.4,751.3 249.0,751.3 250.7,751.5 252.3,751.9 254.0,752.3 255.7,752.5 257.4,752.1 259.0,751.2 260.6,750.1 262.3,749.2 264.0,748.6 265.7,748.1 267.3,747.6 269.0,747.2 270.7,746.7 272.4,746.3 274.0,745.9 275.6,745.4 277.3,744.7 279.0,742.6 280.6,739.3 282.3,736.7 284.0,735.1 285.6,733.7 287.3,732.6 289.0,731.7 290.7,731.0 292.4,730.5 294.0,730.0 295.7,729.2 297.4,727.3 299.0,724.4 300.7,721.7 302.4,719.6 304.0,717.7 305.7,715.8 307.4,714.0 309.0,712.2 310.7,710.0 312.4,706.6 314.0,702.5 315.7,700.0 317.4,699.0 319.0,698.4 320.7,698.0 322.4,697.9 324.0,697.8 325.7,697.7 327.3,697.7 329.0,697.5 330.6,696.3 332.3,695.0 334.0,694.7 335.6,694.5 337.3,694.4 339.0,694.3 340.6,694.2 342.3,694.2 344.0,694.2 345.6,694.2 347.3,694.2 349.0,694.2 350.7,694.2 352.4,694.2 354.0,694.2 355.7,694.2 357.4,694.2 359.0,694.1 360.7,693.9 362.4,693.8 364.0,693.6 365.7,693.4 367.3,693.3 369.0,693.3 370.7,693.4 372.3,693.6 374.0,694.0 375.7,694.3 377.4,694.7 379.0,694.9 380.7,695.0 382.4,693.2 384.0,690.0 385.7,686.7 387.3,683.0 389.0,680.0 390.7,677.8 392.4,676.0 394.0,674.3 395.7,672.5 397.4,670.7 399.0,668.8 400.6,667.0 402.3,665.0 404.0,663.0 405.6,660.9 407.3,658.3 409.1,654.5 410.8,650.0 412.2,646.1 413.6,642.0 415.0,638.3 416.7,634.7 418.4,631.5 420.0,628.6 421.7,625.8 423.4,623.1 425.0,620.6 426.7,618.3 428.4,616.1 430.0,614.1 431.7,612.5 433.4,611.1 435.0,609.7 436.6,608.7 438.3,608.3 440.0,608.3 441.6,608.4 443.3,608.5 445.0,608.6 446.6,608.7 448.3,608.7 450.0,606.9 451.7,604.2 453.1,602.9 454.6,601.9 456.1,600.8 457.5,599.2 458.9,595.7 460.3,590.7 461.7,586.7 463.4,584.3 465.0,581.7 466.6,574.4 468.3,565.0 470.0,556.4 471.7,548.3 473.4,541.6 475.0,535.0 476.6,527.2 478.3,520.0 480.0,514.8 481.7,510.0 482.9,506.1 484.2,501.7 485.4,495.7 486.7,490.0 488.4,484.7 490.0,480.8 491.7,478.3 493.3,476.3 495.0,474.2 496.2,472.3 497.5,470.0 498.8,466.9 500.0,463.3 501.2,459.3 502.5,455.8 503.9,453.5 505.3,451.8 506.7,450.0 508.4,446.9 510.0,445.0 511.7,445.2 513.3,445.6 515.0,445.8 516.7,445.2 518.3,443.9 520.0,442.5 521.7,441.2 523.3,439.7 525.0,437.5 526.2,434.5 527.5,430.0 528.8,423.8 530.0,416.7 531.6,408.2 533.3,400.0 535.0,392.5 536.7,385.0 538.4,377.0 540.0,368.3 541.2,361.0 542.5,353.3 543.8,345.7 545.0,336.7 546.7,316.7 548.3,300.0 550.0,280.0 551.2,266.2 552.5,255.0 553.9,246.9 555.3,240.5 556.7,235.0 558.1,230.2 559.4,225.9 560.8,221.7 562.2,217.6 563.6,213.5 565.0,208.3 566.6,197.4 568.3,186.7 570.0,181.3 571.7,176.7 573.1,171.3 574.5,166.7 576.0,163.8 577.5,162.5 579.1,164.4 580.8,167.5 582.2,169.1 583.6,170.6 585.0,172.5 586.6,175.8 588.3,180.0 590.0,185.5 591.7,190.8 593.1,193.6 594.4,195.9 595.8,198.3 597.2,201.1 598.6,204.0 600.0,206.7 601.7,209.8 603.3,212.7 605.0,215.0 606.4,216.5 607.8,217.8 609.2,218.3 610.7,218.0 612.1,217.2 613.5,216.1 615.0,215.0 616.4,213.4 617.8,211.5 619.2,210.3 620.9,209.9 622.5,209.6 624.2,209.5 625.6,209.9 626.9,211.0 628.3,212.5 630.0,217.3 631.7,223.3 633.4,227.3 635.0,230.8 636.7,234.1 638.3,237.1 640.0,240.0 641.7,242.8 643.3,245.5 645.0,247.5 646.7,248.9 648.3,250.1 650.0,250.8 651.7,251.2 653.3,251.6 655.0,251.7 656.6,251.1 658.3,250.5 660.0,251.7 661.7,254.2 663.4,258.3 665.0,263.3 666.6,267.5 668.3,271.7 670.0,276.2 671.7,281.7 673.2,290.0 674.8,297.5 676.2,299.9 677.6,301.4 679.0,302.5 680.5,303.2 681.9,303.7 683.3,304.2 684.8,305.0 686.3,306.2 687.8,308.0 689.2,310.4 690.7,313.3 692.4,318.8 694.0,326.7 695.6,338.2 697.3,348.3 699.0,353.3 700.7,355.8 702.1,356.3 703.4,356.6 704.8,356.7 706.5,355.0 708.2,351.7 709.6,348.6 710.9,345.0 712.3,341.7 713.8,338.3 715.3,335.1 716.8,333.7 718.4,334.5 719.9,336.1 721.5,337.5 723.2,338.2 724.8,338.8 726.5,339.7 728.1,341.5 729.8,344.2 731.5,348.8 733.2,353.3 734.6,355.2 735.9,356.7 737.3,358.3 739.0,360.6 740.6,363.0 742.3,365.8 744.0,369.2 745.4,373.2 746.8,378.3 748.2,383.3 749.7,389.2 751.2,394.9 752.7,397.5 754.2,394.3 755.7,389.2 757.4,384.4 759.0,381.7 760.7,381.7 762.3,381.7 764.0,381.7 765.7,382.8 767.3,384.9 769.0,386.7 770.4,387.6 771.8,388.4 773.2,388.8 774.7,388.9 776.1,389.0 777.5,389.1 779.0,389.2 780.4,389.5 781.8,390.0 783.2,390.8 784.6,393.4 785.9,398.2 787.3,403.3 789.0,408.9 790.6,414.9 792.3,421.7 794.0,430.2 795.7,440.0 797.0,447.9 798.2,456.7 799.8,470.0 801.0,480.9 802.3,491.7 803.5,501.5 804.8,511.7 806.0,524.0 807.3,536.7 808.6,549.3 810.0,561.7 811.6,578.8 813.3,593.3 815.1,605.0 817.0,610.8 818.6,609.9 820.1,607.7 821.7,605.0 823.3,602.5 825.0,600.1 826.6,597.6 828.3,595.2 830.0,593.3 831.7,591.9 833.4,590.6 835.0,589.5 836.7,588.3 838.4,586.8 840.0,585.2 841.6,583.8 843.3,583.0 845.0,582.7 846.6,582.5 848.3,582.4 850.0,582.2 851.5,582.0 852.9,581.9 854.3,581.8 855.8,581.7 857.2,582.4 858.6,583.8 860.0,585.0 861.7,586.0 863.4,587.0 865.0,587.7 866.7,588.0 868.4,588.0 870.0,588.0 871.6,588.0 873.3,588.0 874.8,587.9 876.2,587.7 877.7,587.3 879.2,586.7 880.9,582.6 882.5,576.7 883.9,573.0 885.3,569.7 886.7,567.5 888.4,566.1 890.0,565.5 891.6,565.9 893.3,566.7 895.0,568.8 896.7,571.7 898.4,573.8 900.0,575.8 901.6,578.0 903.3,580.8 905.0,585.4 906.6,591.3 908.3,596.7 910.0,601.1 911.6,605.2 913.3,608.8 915.0,611.7 916.7,613.9 918.3,615.8 920.0,617.5 921.5,618.8 922.9,620.0 924.3,621.4 925.8,623.3 927.5,628.5 929.2,635.0 930.9,639.8 932.5,645.0 933.8,650.5 935.0,656.7 936.2,663.8 937.5,670.0 939.2,674.6 940.8,678.2 942.5,683.3 943.8,693.6 945.0,701.7 946.6,702.3 948.3,702.5 950.0,702.2 951.6,701.6 953.3,701.3 955.0,701.6 956.6,702.4 958.3,703.2 960.0,703.7 961.7,704.0 963.4,704.2 965.0,704.4 966.7,704.5 968.4,704.0 970.0,702.9 971.7,702.0 973.4,701.6 975.0,701.2 976.7,700.9 978.3,700.6 980.0,700.5 981.7,700.4 983.3,700.4 985.0,700.3 986.6,700.3 988.3,700.3 990.0,700.3 991.6,700.5 993.3,700.6 995.0,700.8 996.6,701.1 998.3,701.3 1000.0,701.6 1001.7,702.1 1003.3,702.5 1005.0,703.0 1006.7,703.3 1008.4,703.5 1010.0,703.7 1011.7,703.9 1013.3,704.0 1015.0,704.2 1016.7,704.4 1018.3,704.7 1020.0,705.0 1021.6,705.2 1023.3,705.3 1025.0,702.9 1026.7,699.2 1028.4,697.1 1030.0,695.3 1031.7,693.3 1033.2,691.2 1034.6,688.9 1036.0,686.7 1037.5,685.0 1039.0,683.7 1040.4,682.5 1041.8,681.5 1043.3,680.8 1045.0,680.2 1046.7,679.7 1048.3,679.3 1050.0,679.2 1051.7,679.2 1053.3,679.3 1055.0,679.4 1056.6,679.6 1058.3,679.7 1060.0,679.8 1061.6,679.9 1063.3,680.1 1065.0,680.2 1066.6,680.4 1068.3,680.5" fill="none" stroke="#f23645" stroke-width="1.5" stroke-linejoin="round"/>
<polyline id="bb-lower" points="0.0,778.7 1.7,778.2 3.3,777.7 5.0,777.2 6.7,776.7 8.3,776.2 10.0,775.8 11.7,775.4 13.3,774.9 15.0,774.4 16.7,774.1 18.3,773.8 20.0,773.7 21.7,773.8 23.3,774.1 25.0,774.5 26.7,774.8 28.3,775.1 30.0,775.3 31.7,775.4 33.3,775.4 35.0,775.4 36.7,775.5 38.3,775.5 40.0,775.5 41.7,775.4 43.3,775.2 45.0,774.8 46.7,774.3 48.3,773.8 50.0,773.3 51.6,772.7 53.2,771.9 54.8,771.0 56.4,770.1 58.0,769.2 59.7,768.1 61.5,767.0 63.2,765.8 65.0,764.9 66.7,764.5 68.3,764.4 69.8,764.3 71.4,764.2 73.0,764.2 74.7,764.3 76.5,764.6 78.2,765.1 80.0,765.7 81.7,766.3 83.3,767.3 84.8,768.8 86.4,770.3 88.0,771.3 89.7,771.9 91.5,772.4 93.2,772.8 95.0,773.1 96.7,773.3 98.4,773.4 100.0,773.4 101.7,773.5 103.3,773.5 105.0,773.5 106.7,773.6 108.3,773.6 110.0,773.7 111.7,774.1 113.3,775.1 115.0,776.3 116.7,777.5 118.3,778.9 119.8,780.6 121.4,782.3 123.0,783.3 124.8,783.9 126.5,784.5 128.2,784.9 130.0,785.0 131.5,784.0 133.0,783.0 134.7,783.1 136.3,783.3 138.0,783.6 139.7,783.9 141.3,784.1 143.0,784.2 144.5,784.2 146.1,784.2 147.6,784.1 149.2,784.1 150.7,784.0 152.3,784.0 153.8,783.9 155.4,783.9 156.9,783.8 158.5,783.8 160.0,783.7 161.7,783.7 163.3,783.6 165.0,783.6 166.7,783.5 168.3,783.5 170.0,783.4 171.7,783.4 173.3,783.3 175.0,783.3 176.7,783.2 178.3,783.1 180.0,783.0 181.7,782.7 183.3,782.1 185.0,781.4 186.7,780.6 188.3,779.8 190.0,779.2 191.7,778.7 193.3,778.3 195.0,778.0 196.7,777.6 198.3,777.2 200.0,776.7 201.6,776.1 203.2,775.3 204.8,774.5 206.4,773.8 208.0,773.3 209.5,773.1 211.0,772.9 212.5,772.7 214.0,772.6 215.5,772.5 217.0,772.4 218.5,772.2 220.0,772.0 221.7,771.6 223.3,771.0 225.0,770.4 226.7,769.8 228.3,769.4 230.0,769.2 231.7,769.2 233.3,769.2 235.0,769.2 236.7,769.2 238.3,769.2 240.0,769.2 241.5,769.3 243.0,769.7 244.5,770.1 246.0,770.6 247.5,771.0 249.0,771.3 250.7,771.5 252.3,771.7 254.0,771.9 255.7,772.1 257.3,772.2 259.0,772.2 260.7,772.1 262.3,771.9 264.0,771.7 265.7,771.5 267.3,771.3 269.0,771.2 270.7,771.2 272.3,771.3 274.0,771.4 275.6,771.5 277.3,771.7 279.0,772.5 280.6,773.9 282.3,775.0 284.0,775.7 285.6,776.3 287.3,776.8 289.0,777.0 290.7,777.1 292.3,777.2 294.0,777.3 295.6,777.4 297.3,777.4 299.0,777.5 300.6,777.5 302.3,777.5 304.0,777.3 305.7,776.9 307.3,776.3 309.0,775.7 310.7,775.0 312.4,774.3 314.0,773.6 315.6,772.7 317.3,771.7 319.0,770.1 320.6,768.2 322.3,766.7 324.0,765.6 325.6,764.6 327.3,764.2 329.0,765.4 330.7,767.5 332.4,769.5 334.0,771.6 335.7,772.5 337.4,772.0 339.0,771.0 340.6,770.0 342.3,769.5 344.0,769.6 345.6,769.7 347.3,769.9 349.0,770.1 350.7,770.4 352.4,770.6 354.0,770.7 355.7,770.8 357.4,770.8 359.0,770.8 360.7,770.8 362.4,770.8 364.0,770.8 365.7,770.8 367.3,770.8 369.0,770.8 370.7,770.8 372.3,770.7 374.0,770.6 375.7,770.5 377.4,770.4 379.0,770.3 380.7,770.3 382.4,770.8 384.0,772.0 385.7,773.3 387.4,774.8 389.0,776.3 390.7,777.0 392.4,776.4 394.0,775.0 395.7,772.4 397.3,768.5 399.0,765.0 400.6,761.9 402.3,760.0 404.0,759.7 405.6,759.5 407.3,759.2 409.0,758.0 410.6,756.3 412.3,755.0 414.0,754.6 415.7,754.2 417.4,752.8 419.0,750.4 420.6,747.5 422.3,745.0 424.0,742.9 425.6,741.0 427.3,739.0 429.0,736.7 430.7,733.8 432.4,730.5 434.0,726.9 435.7,723.3 437.4,719.6 439.0,715.7 440.6,711.8 442.3,708.3 444.0,705.1 445.6,702.2 447.3,699.4 449.0,696.7 450.7,694.0 452.3,691.3 454.0,688.7 455.6,686.6 457.3,685.0 459.0,683.8 460.6,682.7 462.3,682.0 464.0,681.7 465.7,682.1 467.3,683.1 469.0,684.4 470.7,685.6 472.3,686.6 474.0,687.0 475.7,687.0 477.3,686.8 479.0,686.6 480.6,686.3 482.3,685.9 484.0,685.4 485.6,684.8 487.3,684.2 489.0,683.0 490.6,680.9 492.3,678.1 494.0,675.0 496.0,669.4 498.0,663.3 500.0,658.7 502.0,655.0 503.9,652.6 505.8,650.0 507.2,646.6 508.6,642.0 510.0,636.7 511.6,628.8 513.3,620.0 515.0,611.5 516.7,603.3 518.4,594.9 520.0,586.8 521.7,580.8 523.1,577.7 524.4,575.3 525.8,573.3 527.6,570.8 529.5,569.5 531.0,570.9 532.5,572.2 533.9,572.1 535.3,572.1 536.7,572.0 538.4,572.5 540.0,573.7 541.7,575.0 543.2,575.9 544.8,576.8 546.3,578.3 547.8,582.6 549.2,588.3 550.6,593.6 552.0,596.7 553.5,594.2 555.0,589.2 556.6,581.5 558.3,573.3 560.0,567.1 561.7,561.7 563.1,557.3 564.4,553.1 565.8,550.0 567.2,548.4 568.7,546.7 570.2,541.0 571.7,533.3 573.4,526.3 575.0,518.3 576.2,509.8 577.5,500.0 578.8,489.7 580.0,480.0 581.7,470.0 583.4,462.0 585.0,453.3 586.6,439.4 588.3,425.0 590.0,414.3 591.7,405.0 593.4,396.8 595.0,388.3 596.6,377.2 598.3,366.7 600.0,359.4 601.7,353.3 603.1,348.4 604.4,343.8 605.8,340.0 607.3,336.3 608.8,333.1 610.3,331.7 611.8,334.6 613.3,340.0 615.0,347.1 616.7,355.0 618.4,362.7 620.0,368.3 621.7,370.5 623.3,371.9 625.0,373.3 626.4,375.0 627.8,376.7 629.2,377.5 630.6,376.4 631.9,374.4 633.3,373.3 635.0,375.6 636.7,380.0 638.4,385.1 640.0,390.0 641.7,393.0 643.3,395.5 645.0,398.3 646.4,401.3 647.8,404.6 649.2,408.3 650.6,412.4 651.9,417.0 653.3,421.7 655.0,427.3 656.7,433.3 658.4,440.2 660.0,446.7 661.6,452.5 663.3,455.8 664.7,456.0 666.1,456.1 667.6,456.1 669.0,456.3 670.6,457.4 672.3,458.3 673.5,456.6 674.8,455.0 676.3,455.2 677.8,455.7 679.2,456.3 680.7,456.7 682.4,456.9 684.0,457.1 685.6,457.2 687.3,457.5 689.0,458.5 690.6,460.0 692.3,460.8 694.0,459.3 695.6,456.5 697.3,455.0 699.0,455.8 700.6,457.6 702.3,460.0 703.7,462.5 705.1,465.8 706.5,470.0 708.1,476.9 709.8,486.7 711.0,498.9 712.3,511.7 714.0,524.1 715.7,533.3 717.4,539.3 719.0,543.3 720.7,545.8 722.3,547.7 724.0,549.2 725.7,550.5 727.4,551.8 729.0,552.7 730.7,553.0 732.4,552.7 734.0,552.2 735.6,551.6 737.3,551.2 739.0,551.0 740.6,550.9 742.3,550.8 744.0,550.8 745.4,551.4 746.8,552.9 748.2,555.0 749.9,559.5 751.5,566.7 752.8,575.1 754.0,585.0 755.2,593.8 756.5,603.3 758.2,620.0 759.5,629.2 760.7,636.7 762.0,642.6 763.2,648.0 764.5,653.8 765.7,660.0 767.4,669.9 769.0,680.0 770.6,688.7 772.3,696.7 774.0,704.9 775.7,711.7 777.4,716.1 779.0,719.7 780.7,723.3 782.4,727.2 784.0,731.2 785.7,735.0 787.4,738.7 789.0,742.2 790.7,745.8 792.1,749.3 793.4,752.8 794.8,754.7 796.2,755.1 797.7,755.3 799.2,752.2 800.7,746.7 802.1,742.3 803.4,737.4 804.8,731.7 806.0,724.6 807.3,716.7 809.0,706.2 810.7,696.7 812.4,689.1 814.0,683.3 815.6,678.9 817.3,676.7 819.0,677.0 820.6,677.7 822.3,678.3 824.0,678.7 825.7,679.2 827.3,679.6 829.0,679.9 830.7,680.0 832.0,678.2 833.2,675.8 834.7,674.7 836.1,673.8 837.5,673.2 839.0,673.0 840.7,673.0 842.3,673.0 844.0,673.0 845.7,672.6 847.4,671.6 849.0,670.7 850.7,670.3 852.4,670.7 854.0,671.6 855.7,672.0 857.1,671.0 858.4,668.9 859.8,666.7 861.2,664.4 862.6,662.1 864.0,660.8 865.4,660.4 866.8,660.1 868.2,660.0 869.7,660.2 871.1,660.8 872.5,661.6 874.0,662.5 875.7,663.8 877.3,665.6 879.0,668.3 880.8,675.0 882.5,685.0 883.8,693.3 885.0,701.7 886.6,710.4 888.3,718.3 890.0,726.5 891.7,733.3 893.4,738.1 895.0,742.1 896.7,745.0 898.4,747.0 900.0,748.5 901.6,750.0 903.3,751.7 905.0,754.0 906.6,756.6 908.3,759.2 910.0,761.7 911.7,763.9 913.4,765.9 915.0,767.9 916.7,770.0 918.4,772.4 920.0,775.0 921.6,777.4 923.3,779.2 925.0,780.5 926.6,781.6 928.3,782.5 930.0,783.3 931.6,783.9 933.3,784.2 934.7,783.6 936.1,782.2 937.5,780.8 939.0,779.9 940.5,779.0 942.0,777.5 943.4,771.9 944.7,767.0 946.4,766.7 948.1,766.6 949.9,766.5 951.6,766.4 953.3,766.3 955.0,766.2 956.6,766.0 958.3,765.8 960.0,765.7 961.7,765.5 963.4,765.4 965.0,765.3 966.7,765.3 968.4,765.3 970.0,765.4 971.7,765.5 973.4,765.5 975.0,765.6 976.7,765.7 978.3,765.8 980.0,765.8 981.7,765.8 983.3,765.8 985.0,765.7 986.7,765.6 988.4,765.5 990.0,765.4 991.7,765.3 993.4,765.1 995.0,764.9 996.7,764.7 998.4,764.0 1000.0,762.8 1001.7,761.7 1003.2,760.8 1004.7,760.0 1006.2,759.7 1008.0,760.2 1009.9,761.1 1011.7,761.7 1013.4,761.9 1015.0,762.0 1016.7,762.1 1018.4,762.2 1020.0,762.3 1021.7,762.5 1023.4,763.1 1025.0,764.2 1026.7,765.5 1028.3,766.7 1030.0,768.0 1031.7,769.5 1033.3,770.9 1035.0,772.0 1036.7,772.5 1038.4,772.6 1040.0,772.7 1041.7,772.8 1043.3,772.9 1045.0,773.0 1046.6,773.0 1048.3,773.0 1050.0,772.5 1051.6,771.3 1053.3,770.0 1055.0,768.7 1056.7,767.2 1058.3,765.7 1060.0,764.2 1061.7,762.7 1063.3,761.1 1065.0,760.0 1066.7,759.3 1068.3,758.8" fill="none" stroke="#089981" stroke-width="1.5" stroke-linejoin="round"/>
<polyline id="bb-basis" points="0.0,767.5 1.7,767.1 3.3,766.7 5.0,766.3 6.7,765.9 8.3,765.4 10.0,765.0 11.7,764.5 13.3,764.0 15.0,763.5 16.7,762.9 18.3,762.5 20.0,762.0 21.6,761.6 23.2,761.2 24.9,760.8 26.5,760.5 28.1,760.1 29.8,759.8 31.4,759.5 33.0,759.2 34.5,758.9 36.0,758.7 37.6,758.4 39.1,758.2 40.6,758.0 42.1,757.7 43.7,757.5 45.2,757.2 46.7,757.0 48.4,756.7 50.0,756.4 51.7,756.1 53.4,755.8 55.0,755.5 56.7,755.2 58.3,755.0 60.0,754.7 61.6,754.4 63.2,754.2 64.9,753.9 66.5,753.6 68.1,753.4 69.8,753.2 71.4,753.0 73.0,753.0 74.7,753.0 76.3,753.1 78.0,753.2 79.7,753.4 81.3,753.6 83.0,753.8 84.7,754.1 86.3,754.4 88.0,754.9 89.7,755.4 91.3,755.9 93.0,756.3 94.5,756.7 96.0,757.1 97.6,757.4 99.1,757.8 100.6,758.2 102.1,758.5 103.7,758.9 105.2,759.3 106.7,759.7 108.4,760.1 110.0,760.6 111.7,761.0 113.3,761.4 115.0,761.9 116.7,762.3 118.3,762.8 120.0,763.3 121.7,763.9 123.3,764.5 125.0,765.2 126.7,765.8 128.4,766.5 130.0,767.0 131.7,767.5 133.3,767.9 134.9,768.2 136.5,768.6 138.2,768.9 139.8,769.1 141.4,769.3 143.0,769.5 144.5,769.6 146.0,769.7 147.6,769.8 149.1,769.9 150.6,770.0 152.1,770.1 153.7,770.2 155.2,770.2 156.7,770.3 158.4,770.4 160.0,770.5 161.7,770.5 163.3,770.6 165.0,770.7 166.7,770.8 168.3,770.8 170.0,770.8 171.7,770.8 173.3,770.7 175.0,770.6 176.7,770.4 178.3,770.2 180.0,770.0 181.7,769.7 183.3,769.2 185.0,768.5 186.7,767.8 188.4,767.2 190.0,766.7 191.7,766.3 193.4,766.1 195.0,765.9 196.7,765.8 198.3,765.6 200.0,765.5 201.7,765.4 203.3,765.2 205.0,765.0 206.7,764.7 208.3,764.4 210.0,764.0 211.7,763.6 213.4,763.2 215.0,762.8 216.7,762.5 218.3,762.2 219.9,761.8 221.5,761.4 223.2,761.1 224.8,760.8 226.4,760.6 228.0,760.5 229.7,760.4 231.3,760.4 233.0,760.4 234.7,760.3 236.3,760.3 238.0,760.3 239.6,760.3 241.1,760.5 242.7,760.6 244.3,760.9 245.9,761.1 247.4,761.3 249.0,761.5 250.7,761.7 252.3,761.9 254.0,762.1 255.7,762.2 257.4,762.1 259.0,761.8 260.7,761.5 262.4,761.0 264.0,760.6 265.7,760.3 267.4,760.0 269.0,759.8 270.7,759.5 272.4,759.3 274.0,759.0 275.7,758.7 277.4,758.3 279.0,757.9 280.7,757.4 282.4,756.9 284.0,756.3 285.7,755.8 287.4,755.3 289.0,754.8 290.7,754.3 292.4,753.8 294.0,753.2 295.7,752.5 297.4,751.7 299.0,750.7 300.7,749.6 302.4,748.4 304.0,747.1 305.7,745.8 307.4,744.3 309.0,742.6 310.6,740.8 312.3,739.2 314.0,737.6 315.6,736.1 317.3,734.7 319.0,733.7 320.7,732.9 322.4,732.1 324.0,731.5 325.7,731.3 327.4,731.4 329.0,731.7 330.7,732.1 332.3,732.4 334.0,732.5 335.7,732.4 337.3,732.2 339.0,732.0 340.6,731.8 342.3,731.7 344.0,731.7 345.6,731.8 347.3,731.9 349.0,732.0 350.7,732.0 352.4,732.1 354.0,732.2 355.7,732.2 357.4,732.2 359.0,732.2 360.7,732.2 362.4,732.2 364.0,732.2 365.7,732.2 367.3,732.2 369.0,732.2 370.7,732.2 372.3,732.4 374.0,732.5 375.7,732.7 377.4,732.8 379.0,733.0 380.7,733.0 382.4,732.8 384.0,732.4 385.7,731.7 387.3,730.9 389.0,730.0 390.7,728.8 392.4,727.2 394.0,725.3 395.7,723.3 397.4,721.0 399.0,718.3 400.6,715.6 402.3,713.3 404.0,711.5 405.6,710.0 407.3,708.5 409.0,706.7 410.7,704.5 412.4,702.1 414.0,699.4 415.7,696.7 417.4,693.9 419.0,690.9 420.6,687.8 422.3,685.0 424.0,682.3 425.6,679.8 427.3,677.3 429.0,675.0 430.7,672.8 432.4,670.8 434.0,668.8 435.7,666.7 437.4,664.6 439.0,662.4 440.6,660.3 442.3,658.3 443.8,656.5 445.4,654.8 446.9,653.2 448.5,651.6 450.0,650.0 451.7,648.3 453.4,646.8 455.0,645.1 456.7,643.3 458.4,641.3 460.0,639.2 461.7,636.9 463.3,634.4 465.0,631.7 466.7,628.4 468.4,624.5 470.0,620.5 471.7,616.7 473.4,613.2 475.0,609.8 476.6,606.5 478.3,603.3 480.0,600.3 481.6,597.4 483.3,594.5 485.0,591.7 486.7,588.9 488.3,586.1 490.0,583.3 491.7,580.5 493.4,577.7 495.0,574.8 496.7,571.7 498.4,568.2 500.0,564.3 501.6,560.4 503.3,556.7 505.0,553.4 506.6,550.2 508.3,546.7 510.0,542.5 511.6,537.8 513.3,533.3 515.0,529.3 516.6,525.5 518.3,521.7 519.7,518.3 521.1,514.8 522.5,511.7 524.2,508.8 525.8,506.2 527.5,503.3 529.0,500.1 530.4,496.3 531.8,492.3 533.3,488.3 534.8,483.9 536.4,479.2 538.0,474.6 539.5,470.0 541.1,465.7 542.6,461.7 544.2,457.4 545.8,452.5 547.2,447.2 548.6,441.1 550.0,435.0 551.7,427.7 553.3,420.3 555.0,413.3 556.5,407.4 557.9,401.7 559.3,396.3 560.8,391.7 562.5,387.7 564.1,384.3 565.8,380.0 567.2,374.7 568.6,368.2 570.0,361.7 571.7,354.3 573.3,347.0 575.0,340.0 576.7,333.2 578.3,326.7 580.0,321.7 581.7,318.5 583.3,316.1 585.0,313.3 586.7,309.6 588.3,305.5 590.0,301.7 591.7,298.6 593.4,295.8 595.0,293.0 596.7,290.0 598.4,286.4 600.0,283.3 601.7,281.1 603.4,279.3 605.0,277.8 606.7,276.7 608.1,275.9 609.4,275.3 610.8,275.0 612.2,276.3 613.6,279.1 615.0,281.7 616.7,284.1 618.3,286.4 620.0,288.3 621.7,289.7 623.4,290.9 625.0,292.1 626.7,293.3 628.4,294.6 630.0,295.9 631.7,297.5 633.4,299.9 635.0,303.2 636.6,306.7 638.3,310.0 640.0,313.1 641.7,316.2 643.3,319.3 645.0,322.3 646.7,325.0 649.0,328.3 650.7,331.5 652.3,335.1 654.0,338.3 655.7,340.5 657.3,342.4 659.0,345.0 660.2,349.1 661.5,353.3 663.0,355.9 664.4,357.9 665.8,359.6 667.3,361.7 669.0,364.6 670.6,367.8 672.3,370.8 673.7,373.3 675.1,375.8 676.5,377.5 678.0,378.6 679.4,379.5 680.8,380.2 682.3,380.8 684.0,381.2 685.6,381.5 687.3,381.9 689.0,382.5 690.4,384.5 691.8,388.0 693.2,391.7 694.7,395.5 696.1,399.7 697.5,403.4 699.0,405.8 700.7,407.1 702.3,408.0 704.0,409.2 705.7,411.5 707.3,414.7 709.0,418.3 710.7,422.6 712.3,427.5 714.0,431.7 715.7,434.9 717.3,437.7 719.0,440.0 720.7,442.0 722.3,443.7 724.0,445.0 725.7,445.9 727.3,446.6 729.0,447.5 730.7,449.0 732.3,450.9 734.0,452.5 735.7,453.6 737.4,454.5 739.0,455.4 740.7,456.7 742.4,459.0 744.0,462.0 745.7,465.0 747.4,467.3 749.0,470.0 750.7,475.0 752.3,481.7 754.0,488.3 755.7,494.5 757.3,500.6 759.0,505.8 760.7,509.6 762.3,512.9 764.0,516.7 765.7,521.9 767.3,527.8 769.0,533.3 770.7,538.3 772.3,543.0 774.0,546.7 775.7,549.3 777.3,551.3 779.0,553.3 780.4,554.9 781.8,556.4 783.2,558.3 784.6,561.1 785.9,564.6 787.3,568.3 789.0,572.5 790.6,576.9 792.3,581.7 794.0,587.5 795.6,593.9 797.3,600.0 798.7,604.7 800.1,609.2 801.5,613.3 802.9,616.8 804.3,620.0 805.7,623.3 807.4,627.6 809.0,631.7 810.4,634.9 811.8,637.8 813.2,640.0 814.6,641.8 815.9,643.2 817.3,643.8 819.0,643.4 820.6,642.4 822.3,641.2 824.0,640.0 825.7,638.9 827.3,637.8 829.0,636.6 830.6,635.4 832.3,634.2 834.0,632.9 835.7,631.6 837.3,630.3 839.0,629.2 840.7,628.3 842.4,627.6 844.0,627.0 845.7,626.5 847.3,626.1 849.0,625.8 850.7,625.6 852.3,625.4 854.0,625.3 855.6,625.2 857.3,625.0 859.0,624.7 860.7,624.2 862.3,623.8 864.0,623.4 865.7,623.3 867.4,623.4 869.0,623.6 870.6,623.9 872.3,624.2 874.0,624.7 875.6,625.5 877.3,626.5 879.0,627.5 880.6,628.6 882.3,630.0 883.8,632.4 885.3,636.0 886.8,639.8 888.3,643.3 890.0,646.6 891.7,649.8 893.3,652.8 895.0,655.7 896.7,658.3 898.4,660.5 900.0,662.4 901.6,664.4 903.3,666.7 905.0,669.7 906.6,673.2 908.3,676.7 910.0,680.0 911.7,682.9 913.4,685.7 915.0,688.4 916.7,690.8 918.2,692.8 919.7,694.5 921.2,696.2 922.7,698.0 924.2,700.0 925.7,702.2 927.1,704.7 928.5,707.3 930.0,710.0 931.7,713.3 933.4,716.9 935.0,720.3 936.7,723.3 938.4,725.8 940.0,728.0 941.7,730.0 943.4,732.3 945.0,733.7 946.7,733.9 948.3,734.0 950.0,734.1 951.6,734.1 953.3,734.2 955.0,734.3 956.6,734.4 958.3,734.6 960.0,734.7 961.7,734.8 963.4,734.9 965.0,735.0 966.7,735.0 968.4,734.9 970.0,734.7 971.7,734.5 973.4,734.2 975.0,733.9 976.7,733.7 978.4,733.5 980.0,733.3 981.7,733.0 983.3,732.8 985.0,732.7 986.6,732.5 988.3,732.5 990.0,732.5 991.7,732.5 993.3,732.5 995.0,732.5 996.7,732.5 998.4,732.4 1000.0,732.2 1001.7,731.9 1003.4,731.5 1005.0,731.3 1006.7,731.2 1008.4,731.3 1010.0,731.6 1011.7,731.9 1013.3,732.2 1015.0,732.5 1016.7,732.7 1018.3,732.9 1020.0,733.1 1021.6,733.2 1023.3,733.3 1025.0,732.9 1026.7,732.0 1028.3,730.9 1030.0,730.0 1031.7,729.4 1033.3,728.9 1035.0,728.5 1036.7,728.0 1038.3,727.6 1040.0,727.2 1041.7,726.8 1043.3,726.5 1045.0,726.1 1046.7,725.8 1048.3,725.4 1050.0,725.0 1051.7,724.5 1053.3,723.9 1055.0,723.3 1056.6,722.7 1058.3,722.2 1060.0,721.7 1061.6,721.3 1063.3,720.8 1065.0,720.4 1066.6,719.9 1068.3,719.5" fill="none" stroke="#2962ff" stroke-width="1.5" stroke-linejoin="round"/>
<g id="candles" shape-rendering="crispEdges">
<rect x="1068" y="712" width="1" height="34" fill="#ef5350"/>
<rect x="1067" y="713" width="3" height="33" fill="#ef5350"/>
<rect x="1065" y="722" width="1" height="4" fill="#26a69a"/>
<path d="M1064 715h3v7h-3zM1065 716v5h1v-5z" fill-rule="evenodd" fill="#26a69a"/>
<rect x="1061" y="720" width="1" height="8" fill="#26a69a"/>
<rect x="1060" y="723" width="3" height="2" fill="#26a69a"/>
<rect x="1058" y="723" width="1" height="2" fill="#26a69a"/>
<rect x="1058" y="730" width="1" height="5" fill="#26a69a"/>
<path d="M1057 725h3v5h-3zM1058 726v3h1v-3z" fill-rule="evenodd" fill="#26a69a"/>
<rect x="1055" y="719" width="1" height="13" fill="#ef5350"/>
<rect x="1054" y="723" width="3" height="8" fill="#ef5350"/>
<rect x="1052" y="711" width="1" height="12" fill="#ef5350"/>
<rect x="1051" y="720" width="3" height="2" fill="#ef5350"/>
<rect x="1048" y="701" width="1" height="21" fill="#ef5350"/>
<rect x="1047" y="702" width="3" height="19" fill="#ef5350"/>
<rect x="1045" y="700" width="1" height="8" fill="#26a69a"/>
<rect x="1044" y="702" width="3" height="1" fill="#26a69a"/>
<rect x="1042" y="691" width="1" height="20" fill="#ef5350"/>
<rect x="1041" y="698" width="3" height="8" fill="#ef5350"/>
<rect x="1039" y="684" width="1" height="21" fill="#ef5350"/>
<rect x="1038" y="687" width="3" height="11" fill="#ef5350"/>
<rect x="1035" y="683" width="1" height="11" fill="#ef5350"/>
<rect x="1034" y="687" width="3" height="3" fill="#ef5350"/>
<rect x="1032" y="678" width="1" height="10" fill="#26a69a"/>
<rect x="1032" y="697" width="1" height="1" fill="#26a69a"/>
<path d="M1031 688h3v9h-3zM1032 689v7h1v-7z" fill-rule="evenodd" fill="#26a69a"/>
<rect x="1029" y="689" width="1" height="4" fill="#26a69a"/>
<rect x="1029" y="698" width="1" height="1" fill="#26a69a"/>
<path d="M1028 693h3v5h-3zM1029 694v3h1v-3z" fill-rule="evenodd" fill="#26a69a"/>
<rect x="1026" y="730" width="1" height="1" fill="#26a69a"/>
<path d="M1025 700h3v30h-3zM1026 701v28h1v-28z" fill-rule="evenodd" fill="#26a69a"/>
<rect x="1022" y="730" width="1" height="12" fill="#ef5350"/>
<rect x="1021" y="738" width="3" height="2" fill="#ef5350"/>
<rect x="1019" y="722" width="1" height="16" fill="#ef5350"/>
<rect x="1018" y="722" width="3" height="16" fill="#ef5350"/>
<rect x="1016" y="722" width="1" height="1" fill="#26a69a"/>
<rect x="1016" y="738" width="1" height="6" fill="#26a69a"/>
<path d="M1015 723h3v15h-3zM1016 724v13h1v-13z" fill-rule="evenodd" fill="#26a69a"/>
<rect x="1013" y="734" width="1" height="5" fill="#26a69a"/>
<rect x="1013" y="747" width="1" height="1" fill="#26a69a"/>
<path d="M1012 739h3v8h-3zM1013 740v6h1v-6z" fill-rule="evenodd" fill="#26a69a"/>
<rect x="1009" y="743" width="1" height="3" fill="#26a69a"/>
<path d="M1008 746h3v9h-3zM1009 747v7h1v-7z" fill-rule="evenodd" fill="#26a69a"/>
<rect x="1006" y="745" width="1" height="11" fill="#ef5350"/>
<rect x="1005" y="752" width="3" height="3" fill="#ef5350"/>
<rect x="1003" y="744" width="1" height="13" fill="#ef5350"/>
<rect x="1002" y="745" width="3" height="8" fill="#ef5350"/>
<rect x="1000" y="741" width="1" height="10" fill="#26a69a"/>
<rect x="999" y="746" width="3" height="2" fill="#26a69a"/>
<rect x="996" y="747" width="1" height="5" fill="#ef5350"/>
<rect x="995" y="749" width="3" height="2" fill="#ef5350"/>
<rect x="993" y="747" width="1" height="1" fill="#26a69a"/>
<rect x="993" y="751" width="1" height="2" fill="#26a69a"/>
<path d="M992 748h3v3h-3zM993 749v1h1v-1z" fill-rule="evenodd" fill="#26a69a"/>
<rect x="990" y="738" width="1" height="14" fill="#ef5350"/>
<rect x="989" y="739" width="3" height="13" fill="#ef5350"/>
<rect x="987" y="729" width="1" height="13" fill="#ef5350"/>
<rect x="986" y="729" width="3" height="12" fill="#ef5350"/>
<rect x="983" y="719" width="1" height="10" fill="#ef5350"/>
<rect x="982" y="723" width="3" height="5" fill="#ef5350"/>
<rect x="980" y="713" width="1" height="9" fill="#26a69a"/>
<rect x="980" y="727" width="1" height="1" fill="#26a69a"/>
<path d="M979 722h3v5h-3zM980 723v3h1v-3z" fill-rule="evenodd" fill="#26a69a"/>
<rect x="977" y="715" width="1" height="14" fill="#ef5350"/>
<rect x="976" y="722" width="3" height="5" fill="#ef5350"/>
<rect x="974" y="705" width="1" height="18" fill="#ef5350"/>
<rect x="973" y="707" width="3" height="15" fill="#ef5350"/>
<rect x="970" y="708" width="1" height="5" fill="#ef5350"/>
<rect x="969" y="708" width="3" height="2" fill="#ef5350"/>
<rect x="967" y="708" width="1" height="1" fill="#26a69a"/>
<rect x="967" y="715" width="1" height="3" fill="#26a69a"/>
<path d="M966 709h3v6h-3zM967 710v4h1v-4z" fill-rule="evenodd" fill="#26a69a"/>
<rect x="964" y="710" width="1" height="4" fill="#26a69a"/>
<rect x="964" y="728" width="1" height="4" fill="#26a69a"/>
<path d="M963 714h3v14h-3zM964 715v12h1v-12z" fill-rule="evenodd" fill="#26a69a"/>
<rect x="961" y="722" width="1" height="5" fill="#26a69a"/>
<rect x="961" y="730" width="1" height="6" fill="#26a69a"/>
<path d="M960 727h3v3h-3zM961 728v1h1v-1z" fill-rule="evenodd" fill="#26a69a"/>
<rect x="957" y="722" width="1" height="20" fill="#ef5350"/>
<rect x="956" y="725" width="3" height="3" fill="#ef5350"/>
<rect x="954" y="717" width="1" height="10" fill="#ef5350"/>
<rect x="953" y="719" width="3" height="7" fill="#ef5350"/>
<rect x="951" y="707" width="1" height="13" fill="#26a69a"/>
<path d="M950 720h3v12h-3zM951 721v10h1v-10z" fill-rule="evenodd" fill="#26a69a"/>
<rect x="948" y="727" width="1" height="2" fill="#26a69a"/>
<rect x="948" y="734" width="1" height="7" fill="#26a69a"/>
<path d="M947 729h3v5h-3zM948 730v3h1v-3z" fill-rule="evenodd" fill="#26a69a"/>
<rect x="944" y="726" width="1" height="6" fill="#26a69a"/>
<path d="M943 732h3v30h-3zM944 733v28h1v-28z" fill-rule="evenodd" fill="#26a69a"/>
<rect x="941" y="760" width="1" height="18" fill="#26a69a"/>
<rect x="940" y="762" width="3" height="1" fill="#26a69a"/>
<rect x="938" y="747" width="1" height="19" fill="#ef5350"/>
<rect x="937" y="752" width="3" height="14" fill="#ef5350"/>
<rect x="935" y="735" width="1" height="20" fill="#ef5350"/>
<rect x="934" y="751" width="3" height="3" fill="#ef5350"/>
<rect x="932" y="742" width="1" height="9" fill="#ef5350"/>
<rect x="931" y="747" width="3" height="2" fill="#ef5350"/>
<rect x="928" y="744" width="1" height="3" fill="#26a69a"/>
<rect x="928" y="753" width="1" height="3" fill="#26a69a"/>
<path d="M927 747h3v6h-3zM928 748v4h1v-4z" fill-rule="evenodd" fill="#26a69a"/>
<rect x="925" y="744" width="1" height="12" fill="#ef5350"/>
<rect x="924" y="746" width="3" height="7" fill="#ef5350"/>
<rect x="922" y="730" width="1" height="16" fill="#ef5350"/>
<rect x="921" y="739" width="3" height="6" fill="#ef5350"/>
<rect x="919" y="730" width="1" height="15" fill="#ef5350"/>
<rect x="918" y="730" width="3" height="9" fill="#ef5350"/>
<rect x="915" y="724" width="1" height="8" fill="#ef5350"/>
<rect x="914" y="725" width="3" height="5" fill="#ef5350"/>
<rect x="912" y="724" width="1" height="2" fill="#26a69a"/>
<rect x="912" y="733" width="1" height="1" fill="#26a69a"/>
<path d="M911 726h3v7h-3zM912 727v5h1v-5z" fill-rule="evenodd" fill="#26a69a"/>
<rect x="909" y="720" width="1" height="12" fill="#ef5350"/>
<rect x="908" y="722" width="3" height="10" fill="#ef5350"/>
<rect x="906" y="701" width="1" height="22" fill="#ef5350"/>
<rect x="905" y="703" width="3" height="19" fill="#ef5350"/>
<rect x="902" y="699" width="1" height="5" fill="#26a69a"/>
<rect x="902" y="716" width="1" height="1" fill="#26a69a"/>
<path d="M901 704h3v12h-3zM902 705v10h1v-10z" fill-rule="evenodd" fill="#26a69a"/>
<rect x="899" y="704" width="1" height="23" fill="#ef5350"/>
<rect x="898" y="712" width="3" height="5" fill="#ef5350"/>
<rect x="896" y="706" width="1" height="6" fill="#26a69a"/>
<rect x="896" y="724" width="1" height="1" fill="#26a69a"/>
<path d="M895 712h3v12h-3zM896 713v10h1v-10z" fill-rule="evenodd" fill="#26a69a"/>
<rect x="893" y="714" width="1" height="9" fill="#26a69a"/>
<rect x="893" y="732" width="1" height="2" fill="#26a69a"/>
<path d="M892 723h3v9h-3zM893 724v7h1v-7z" fill-rule="evenodd" fill="#26a69a"/>
<rect x="889" y="719" width="1" height="19" fill="#ef5350"/>
<rect x="888" y="719" width="3" height="12" fill="#ef5350"/>
<rect x="886" y="724" width="1" height="18" fill="#ef5350"/>
<rect x="885" y="726" width="3" height="1" fill="#ef5350"/>
<rect x="883" y="650" width="1" height="82" fill="#ef5350"/>
<rect x="882" y="654" width="3" height="71" fill="#ef5350"/>
<rect x="880" y="637" width="1" height="16" fill="#26a69a"/>
<rect x="880" y="656" width="1" height="2" fill="#26a69a"/>
<path d="M879 653h3v3h-3zM880 654v1h1v-1z" fill-rule="evenodd" fill="#26a69a"/>
<rect x="876" y="618" width="1" height="39" fill="#ef5350"/>
<rect x="875" y="630" width="3" height="26" fill="#ef5350"/>
<rect x="873" y="632" width="1" height="2" fill="#26a69a"/>
<rect x="873" y="646" width="1" height="4" fill="#26a69a"/>
<path d="M872 634h3v12h-3zM873 635v10h1v-10z" fill-rule="evenodd" fill="#26a69a"/>
<rect x="870" y="640" width="1" height="4" fill="#26a69a"/>
<rect x="870" y="656" width="1" height="1" fill="#26a69a"/>
<path d="M869 644h3v12h-3zM870 645v10h1v-10z" fill-rule="evenodd" fill="#26a69a"/>
<rect x="867" y="640" width="1" height="22" fill="#ef5350"/>
<rect x="866" y="644" width="3" height="8" fill="#ef5350"/>
<rect x="863" y="618" width="1" height="10" fill="#26a69a"/>
<rect x="863" y="661" width="1" height="11" fill="#26a69a"/>
<path d="M862 628h3v33h-3zM863 629v31h1v-31z" fill-rule="evenodd" fill="#26a69a"/>
<rect x="860" y="642" width="1" height="27" fill="#ef5350"/>
<rect x="859" y="649" width="3" height="13" fill="#ef5350"/>
<rect x="857" y="646" width="1" height="16" fill="#26a69a"/>
<rect x="856" y="648" width="3" height="2" fill="#26a69a"/>
<rect x="854" y="618" width="1" height="35" fill="#ef5350"/>
<rect x="853" y="624" width="3" height="26" fill="#ef5350"/>
<rect x="850" y="618" width="1" height="19" fill="#26a69a"/>
<rect x="849" y="624" width="3" height="2" fill="#26a69a"/>
<rect x="847" y="602" width="1" height="26" fill="#ef5350"/>
<rect x="846" y="602" width="3" height="26" fill="#ef5350"/>
<rect x="844" y="593" width="1" height="11" fill="#ef5350"/>
<rect x="843" y="594" width="3" height="8" fill="#ef5350"/>
<rect x="841" y="593" width="1" height="5" fill="#26a69a"/>
<rect x="841" y="612" width="1" height="13" fill="#26a69a"/>
<path d="M840 598h3v14h-3zM841 599v12h1v-12z" fill-rule="evenodd" fill="#26a69a"/>
<rect x="837" y="587" width="1" height="23" fill="#26a69a"/>
<rect x="837" y="618" width="1" height="13" fill="#26a69a"/>
<path d="M836 610h3v8h-3zM837 611v6h1v-6z" fill-rule="evenodd" fill="#26a69a"/>
<rect x="834" y="588" width="1" height="31" fill="#ef5350"/>
<rect x="833" y="601" width="3" height="14" fill="#ef5350"/>
<rect x="831" y="593" width="1" height="9" fill="#26a69a"/>
<rect x="831" y="608" width="1" height="4" fill="#26a69a"/>
<path d="M830 602h3v6h-3zM831 603v4h1v-4z" fill-rule="evenodd" fill="#26a69a"/>
<rect x="828" y="601" width="1" height="16" fill="#ef5350"/>
<rect x="827" y="602" width="3" height="10" fill="#ef5350"/>
<rect x="824" y="585" width="1" height="16" fill="#26a69a"/>
<rect x="824" y="615" width="1" height="3" fill="#26a69a"/>
<path d="M823 601h3v14h-3zM824 602v12h1v-12z" fill-rule="evenodd" fill="#26a69a"/>
<rect x="821" y="591" width="1" height="25" fill="#26a69a"/>
<rect x="821" y="628" width="1" height="9" fill="#26a69a"/>
<path d="M820 616h3v12h-3zM821 617v10h1v-10z" fill-rule="evenodd" fill="#26a69a"/>
<rect x="818" y="613" width="1" height="25" fill="#26a69a"/>
<rect x="817" y="619" width="3" height="8" fill="#26a69a"/>
<rect x="815" y="611" width="1" height="17" fill="#26a69a"/>
<rect x="814" y="626" width="3" height="1" fill="#26a69a"/>
<rect x="811" y="601" width="1" height="33" fill="#ef5350"/>
<rect x="810" y="618" width="3" height="10" fill="#ef5350"/>
<rect x="808" y="614" width="1" height="5" fill="#26a69a"/>
<rect x="808" y="633" width="1" height="5" fill="#26a69a"/>
<path d="M807 619h3v14h-3zM808 620v12h1v-12z" fill-rule="evenodd" fill="#26a69a"/>
<rect x="805" y="634" width="1" height="1" fill="#26a69a"/>
<rect x="805" y="659" width="1" height="1" fill="#26a69a"/>
<path d="M804 635h3v24h-3zM805 636v22h1v-22z" fill-rule="evenodd" fill="#26a69a"/>
<rect x="802" y="657" width="1" height="3" fill="#26a69a"/>
<rect x="802" y="663" width="1" height="9" fill="#26a69a"/>
<path d="M801 660h3v3h-3zM802 661v1h1v-1z" fill-rule="evenodd" fill="#26a69a"/>
<rect x="798" y="662" width="1" height="3" fill="#26a69a"/>
<rect x="798" y="679" width="1" height="1" fill="#26a69a"/>
<path d="M797 665h3v14h-3zM798 666v12h1v-12z" fill-rule="evenodd" fill="#26a69a"/>
<rect x="795" y="650" width="1" height="34" fill="#ef5350"/>
<rect x="794" y="653" width="3" height="26" fill="#ef5350"/>
<rect x="792" y="634" width="1" height="26" fill="#ef5350"/>
<rect x="791" y="637" width="3" height="15" fill="#ef5350"/>
<rect x="789" y="628" width="1" height="7" fill="#26a69a"/>
<rect x="789" y="638" width="1" height="12" fill="#26a69a"/>
<path d="M788 635h3v3h-3zM789 636v1h1v-1z" fill-rule="evenodd" fill="#26a69a"/>
<rect x="785" y="630" width="1" height="6" fill="#26a69a"/>
<rect x="785" y="650" width="1" height="7" fill="#26a69a"/>
<path d="M784 636h3v14h-3zM785 637v12h1v-12z" fill-rule="evenodd" fill="#26a69a"/>
<rect x="782" y="617" width="1" height="38" fill="#ef5350"/>
<rect x="781" y="618" width="3" height="30" fill="#ef5350"/>
<rect x="779" y="660" width="1" height="5" fill="#26a69a"/>
<path d="M778 618h3v42h-3zM779 619v40h1v-40z" fill-rule="evenodd" fill="#26a69a"/>
<rect x="776" y="640" width="1" height="28" fill="#ef5350"/>
<rect x="775" y="647" width="3" height="11" fill="#ef5350"/>
<rect x="773" y="635" width="1" height="13" fill="#26a69a"/>
<rect x="773" y="668" width="1" height="2" fill="#26a69a"/>
<path d="M772 648h3v20h-3zM773 649v18h1v-18z" fill-rule="evenodd" fill="#26a69a"/>
<rect x="769" y="618" width="1" height="60" fill="#ef5350"/>
<rect x="768" y="636" width="3" height="32" fill="#ef5350"/>
<rect x="766" y="630" width="1" height="8" fill="#26a69a"/>
<rect x="766" y="642" width="1" height="22" fill="#26a69a"/>
<path d="M765 638h3v4h-3zM766 639v2h1v-2z" fill-rule="evenodd" fill="#26a69a"/>
<rect x="763" y="627" width="1" height="15" fill="#26a69a"/>
<rect x="763" y="661" width="1" height="3" fill="#26a69a"/>
<path d="M762 642h3v19h-3zM763 643v17h1v-17z" fill-rule="evenodd" fill="#26a69a"/>
<rect x="760" y="639" width="1" height="23" fill="#ef5350"/>
<rect x="759" y="642" width="3" height="16" fill="#ef5350"/>
<rect x="756" y="590" width="1" height="53" fill="#ef5350"/>
<rect x="755" y="590" width="3" height="52" fill="#ef5350"/>
<rect x="753" y="528" width="1" height="66" fill="#ef5350"/>
<rect x="752" y="538" width="3" height="48" fill="#ef5350"/>
<rect x="750" y="517" width="1" height="25" fill="#ef5350"/>
<rect x="749" y="519" width="3" height="21" fill="#ef5350"/>
<rect x="747" y="475" width="1" height="34" fill="#ef5350"/>
<rect x="746" y="488" width="3" height="20" fill="#ef5350"/>
<rect x="743" y="448" width="1" height="31" fill="#ef5350"/>
<rect x="742" y="448" width="3" height="27" fill="#ef5350"/>
<rect x="740" y="431" width="1" height="22" fill="#ef5350"/>
<rect x="739" y="432" width="3" height="10" fill="#ef5350"/>
<rect x="737" y="435" width="1" height="3" fill="#26a69a"/>
<rect x="737" y="457" width="1" height="1" fill="#26a69a"/>
<path d="M736 438h3v19h-3zM737 439v17h1v-17z" fill-rule="evenodd" fill="#26a69a"/>
<rect x="734" y="440" width="1" height="18" fill="#26a69a"/>
<rect x="734" y="466" width="1" height="4" fill="#26a69a"/>
<path d="M733 458h3v8h-3zM734 459v6h1v-6z" fill-rule="evenodd" fill="#26a69a"/>
<rect x="730" y="465" width="1" height="5" fill="#26a69a"/>
<rect x="730" y="478" width="1" height="18" fill="#26a69a"/>
<path d="M729 470h3v8h-3zM730 471v6h1v-6z" fill-rule="evenodd" fill="#26a69a"/>
<rect x="727" y="465" width="1" height="17" fill="#26a69a"/>
<rect x="727" y="494" width="1" height="3" fill="#26a69a"/>
<path d="M726 482h3v12h-3zM727 483v10h1v-10z" fill-rule="evenodd" fill="#26a69a"/>
<rect x="724" y="487" width="1" height="23" fill="#26a69a"/>
<rect x="723" y="490" width="3" height="1" fill="#26a69a"/>
<rect x="721" y="487" width="1" height="6" fill="#26a69a"/>
<rect x="721" y="535" width="1" height="1" fill="#26a69a"/>
<path d="M720 493h3v42h-3zM721 494v40h1v-40z" fill-rule="evenodd" fill="#26a69a"/>
<rect x="717" y="523" width="1" height="11" fill="#26a69a"/>
<rect x="717" y="552" width="1" height="1" fill="#26a69a"/>
<path d="M716 534h3v18h-3zM717 535v16h1v-16z" fill-rule="evenodd" fill="#26a69a"/>
<rect x="714" y="518" width="1" height="40" fill="#ef5350"/>
<rect x="713" y="519" width="3" height="33" fill="#ef5350"/>
<rect x="711" y="486" width="1" height="57" fill="#ef5350"/>
<rect x="710" y="501" width="3" height="19" fill="#ef5350"/>
<rect x="708" y="434" width="1" height="63" fill="#ef5350"/>
<rect x="707" y="438" width="3" height="58" fill="#ef5350"/>
<rect x="704" y="422" width="1" height="20" fill="#26a69a"/>
<rect x="704" y="451" width="1" height="19" fill="#26a69a"/>
<path d="M703 442h3v9h-3zM704 443v7h1v-7z" fill-rule="evenodd" fill="#26a69a"/>
<rect x="701" y="437" width="1" height="33" fill="#ef5350"/>
<rect x="700" y="447" width="3" height="8" fill="#ef5350"/>
<rect x="698" y="418" width="1" height="45" fill="#ef5350"/>
<rect x="697" y="432" width="3" height="12" fill="#ef5350"/>
<rect x="695" y="421" width="1" height="37" fill="#ef5350"/>
<rect x="694" y="428" width="3" height="7" fill="#ef5350"/>
<rect x="691" y="372" width="1" height="75" fill="#ef5350"/>
<rect x="690" y="383" width="3" height="46" fill="#ef5350"/>
<rect x="688" y="372" width="1" height="10" fill="#26a69a"/>
<rect x="688" y="395" width="1" height="5" fill="#26a69a"/>
<path d="M687 382h3v13h-3zM688 383v11h1v-11z" fill-rule="evenodd" fill="#26a69a"/>
<rect x="685" y="372" width="1" height="26" fill="#ef5350"/>
<rect x="684" y="388" width="3" height="1" fill="#ef5350"/>
<rect x="682" y="382" width="1" height="5" fill="#26a69a"/>
<rect x="682" y="394" width="1" height="6" fill="#26a69a"/>
<path d="M681 387h3v7h-3zM682 388v5h1v-5z" fill-rule="evenodd" fill="#26a69a"/>
<rect x="678" y="380" width="1" height="23" fill="#26a69a"/>
<rect x="677" y="397" width="3" height="2" fill="#26a69a"/>
<rect x="675" y="386" width="1" height="11" fill="#26a69a"/>
<rect x="675" y="412" width="1" height="1" fill="#26a69a"/>
<path d="M674 397h3v15h-3zM675 398v13h1v-13z" fill-rule="evenodd" fill="#26a69a"/>
<rect x="672" y="372" width="1" height="42" fill="#ef5350"/>
<rect x="671" y="373" width="3" height="39" fill="#ef5350"/>
<rect x="669" y="402" width="1" height="10" fill="#26a69a"/>
<path d="M668 374h3v28h-3zM669 375v26h1v-26z" fill-rule="evenodd" fill="#26a69a"/>
<rect x="665" y="397" width="1" height="10" fill="#26a69a"/>
<rect x="665" y="478" width="1" height="30" fill="#26a69a"/>
<path d="M664 407h3v71h-3zM665 408v69h1v-69z" fill-rule="evenodd" fill="#26a69a"/>
<rect x="662" y="408" width="1" height="57" fill="#ef5350"/>
<rect x="661" y="425" width="3" height="39" fill="#ef5350"/>
<rect x="659" y="400" width="1" height="56" fill="#ef5350"/>
<rect x="658" y="400" width="3" height="8" fill="#ef5350"/>
<rect x="656" y="368" width="1" height="35" fill="#26a69a"/>
<rect x="656" y="427" width="1" height="11" fill="#26a69a"/>
<path d="M655 403h3v24h-3zM656 404v22h1v-22z" fill-rule="evenodd" fill="#26a69a"/>
<rect x="652" y="348" width="1" height="72" fill="#ef5350"/>
<rect x="651" y="377" width="3" height="42" fill="#ef5350"/>
<rect x="649" y="345" width="1" height="32" fill="#26a69a"/>
<rect x="649" y="390" width="1" height="7" fill="#26a69a"/>
<path d="M648 377h3v13h-3zM649 378v11h1v-11z" fill-rule="evenodd" fill="#26a69a"/>
<rect x="646" y="352" width="1" height="55" fill="#ef5350"/>
<rect x="645" y="378" width="3" height="16" fill="#ef5350"/>
<rect x="643" y="374" width="1" height="4" fill="#26a69a"/>
<rect x="643" y="398" width="1" height="24" fill="#26a69a"/>
<path d="M642 378h3v20h-3zM643 379v18h1v-18z" fill-rule="evenodd" fill="#26a69a"/>
<rect x="639" y="342" width="1" height="54" fill="#ef5350"/>
<rect x="638" y="342" width="3" height="51" fill="#ef5350"/>
<rect x="636" y="288" width="1" height="68" fill="#ef5350"/>
<rect x="635" y="293" width="3" height="55" fill="#ef5350"/>
<rect x="633" y="295" width="1" height="3" fill="#26a69a"/>
<rect x="633" y="313" width="1" height="18" fill="#26a69a"/>
<path d="M632 298h3v15h-3zM633 299v13h1v-13z" fill-rule="evenodd" fill="#26a69a"/>
<rect x="630" y="302" width="1" height="9" fill="#26a69a"/>
<rect x="630" y="357" width="1" height="1" fill="#26a69a"/>
<path d="M629 311h3v46h-3zM630 312v44h1v-44z" fill-rule="evenodd" fill="#26a69a"/>
<rect x="626" y="318" width="1" height="49" fill="#26a69a"/>
<rect x="625" y="338" width="3" height="1" fill="#26a69a"/>
<rect x="623" y="294" width="1" height="44" fill="#26a69a"/>
<rect x="623" y="363" width="1" height="5" fill="#26a69a"/>
<path d="M622 338h3v25h-3zM623 339v23h1v-23z" fill-rule="evenodd" fill="#26a69a"/>
<rect x="620" y="333" width="1" height="5" fill="#26a69a"/>
<rect x="620" y="368" width="1" height="1" fill="#26a69a"/>
<path d="M619 338h3v30h-3zM620 339v28h1v-28z" fill-rule="evenodd" fill="#26a69a"/>
<rect x="617" y="318" width="1" height="79" fill="#ef5350"/>
<rect x="616" y="337" width="3" height="30" fill="#ef5350"/>
<rect x="613" y="259" width="1" height="88" fill="#ef5350"/>
<rect x="612" y="271" width="3" height="71" fill="#ef5350"/>
<rect x="610" y="271" width="1" height="3" fill="#26a69a"/>
<rect x="610" y="303" width="1" height="5" fill="#26a69a"/>
<path d="M609 274h3v29h-3zM610 275v27h1v-27z" fill-rule="evenodd" fill="#26a69a"/>
<rect x="607" y="270" width="1" height="31" fill="#ef5350"/>
<rect x="606" y="290" width="3" height="11" fill="#ef5350"/>
<rect x="604" y="257" width="1" height="53" fill="#ef5350"/>
<rect x="603" y="278" width="3" height="15" fill="#ef5350"/>
<rect x="601" y="275" width="1" height="27" fill="#ef5350"/>
<rect x="600" y="275" width="3" height="3" fill="#ef5350"/>
<rect x="597" y="253" width="1" height="16" fill="#26a69a"/>
<rect x="597" y="335" width="1" height="35" fill="#26a69a"/>
<path d="M596 269h3v66h-3zM597 270v64h1v-64z" fill-rule="evenodd" fill="#26a69a"/>
<rect x="594" y="308" width="1" height="52" fill="#ef5350"/>
<rect x="593" y="319" width="3" height="19" fill="#ef5350"/>
<rect x="591" y="281" width="1" height="47" fill="#ef5350"/>
<rect x="590" y="281" width="3" height="32" fill="#ef5350"/>
<rect x="588" y="254" width="1" height="32" fill="#26a69a"/>
<rect x="588" y="301" width="1" height="36" fill="#26a69a"/>
<path d="M587 286h3v15h-3zM588 287v13h1v-13z" fill-rule="evenodd" fill="#26a69a"/>
<rect x="584" y="259" width="1" height="62" fill="#ef5350"/>
<rect x="583" y="263" width="3" height="38" fill="#ef5350"/>
<rect x="581" y="228" width="1" height="67" fill="#ef5350"/>
<rect x="580" y="245" width="3" height="22" fill="#ef5350"/>
<rect x="578" y="228" width="1" height="50" fill="#ef5350"/>
<rect x="577" y="229" width="3" height="23" fill="#ef5350"/>
<rect x="575" y="213" width="1" height="20" fill="#26a69a"/>
<rect x="575" y="258" width="1" height="9" fill="#26a69a"/>
<path d="M574 233h3v25h-3zM575 234v23h1v-23z" fill-rule="evenodd" fill="#26a69a"/>
<rect x="571" y="198" width="1" height="66" fill="#ef5350"/>
<rect x="570" y="208" width="3" height="49" fill="#ef5350"/>
<rect x="568" y="206" width="1" height="12" fill="#26a69a"/>
<rect x="568" y="249" width="1" height="16" fill="#26a69a"/>
<path d="M567 218h3v31h-3zM568 219v29h1v-29z" fill-rule="evenodd" fill="#26a69a"/>
<rect x="565" y="248" width="1" height="5" fill="#26a69a"/>
<rect x="565" y="276" width="1" height="14" fill="#26a69a"/>
<path d="M564 253h3v23h-3zM565 254v21h1v-21z" fill-rule="evenodd" fill="#26a69a"/>
<rect x="562" y="273" width="1" height="3" fill="#26a69a"/>
<rect x="562" y="294" width="1" height="38" fill="#26a69a"/>
<path d="M561 276h3v18h-3zM562 277v16h1v-16z" fill-rule="evenodd" fill="#26a69a"/>
<rect x="558" y="285" width="1" height="10" fill="#26a69a"/>
<rect x="558" y="326" width="1" height="45" fill="#26a69a"/>
<path d="M557 295h3v31h-3zM558 296v29h1v-29z" fill-rule="evenodd" fill="#26a69a"/>
<rect x="555" y="231" width="1" height="103" fill="#ef5350"/>
<rect x="554" y="235" width="3" height="67" fill="#ef5350"/>
<rect x="552" y="231" width="1" height="47" fill="#26a69a"/>
<rect x="551" y="231" width="3" height="8" fill="#26a69a"/>
<rect x="549" y="257" width="1" height="7" fill="#26a69a"/>
<rect x="549" y="300" width="1" height="21" fill="#26a69a"/>
<path d="M548 264h3v36h-3zM549 265v34h1v-34z" fill-rule="evenodd" fill="#26a69a"/>
<rect x="545" y="343" width="1" height="5" fill="#26a69a"/>
<path d="M544 312h3v31h-3zM545 313v29h1v-29z" fill-rule="evenodd" fill="#26a69a"/>
<rect x="542" y="338" width="1" height="4" fill="#26a69a"/>
<rect x="542" y="372" width="1" height="8" fill="#26a69a"/>
<path d="M541 342h3v30h-3zM542 343v28h1v-28z" fill-rule="evenodd" fill="#26a69a"/>
<rect x="539" y="368" width="1" height="6" fill="#26a69a"/>
<rect x="539" y="383" width="1" height="28" fill="#26a69a"/>
<path d="M538 374h3v9h-3zM539 375v7h1v-7z" fill-rule="evenodd" fill="#26a69a"/>
<rect x="536" y="385" width="1" height="3" fill="#26a69a"/>
<rect x="536" y="393" width="1" height="19" fill="#26a69a"/>
<path d="M535 388h3v5h-3zM536 389v3h1v-3z" fill-rule="evenodd" fill="#26a69a"/>
<rect x="532" y="365" width="1" height="25" fill="#26a69a"/>
<path d="M531 390h3v15h-3zM532 391v13h1v-13z" fill-rule="evenodd" fill="#26a69a"/>
<rect x="529" y="393" width="1" height="14" fill="#26a69a"/>
<rect x="529" y="442" width="1" height="4" fill="#26a69a"/>
<path d="M528 407h3v35h-3zM529 408v33h1v-33z" fill-rule="evenodd" fill="#26a69a"/>
<rect x="526" y="441" width="1" height="1" fill="#26a69a"/>
<rect x="526" y="452" width="1" height="24" fill="#26a69a"/>
<path d="M525 442h3v10h-3zM526 443v8h1v-8z" fill-rule="evenodd" fill="#26a69a"/>
<rect x="523" y="445" width="1" height="28" fill="#ef5350"/>
<rect x="522" y="448" width="3" height="5" fill="#ef5350"/>
<rect x="519" y="435" width="1" height="17" fill="#26a69a"/>
<path d="M518 452h3v51h-3zM519 453v49h1v-49z" fill-rule="evenodd" fill="#26a69a"/>
<rect x="516" y="470" width="1" height="33" fill="#ef5350"/>
<rect x="515" y="474" width="3" height="28" fill="#ef5350"/>
<rect x="513" y="458" width="1" height="35" fill="#ef5350"/>
<rect x="512" y="468" width="3" height="10" fill="#ef5350"/>
<rect x="510" y="468" width="1" height="2" fill="#26a69a"/>
<rect x="510" y="483" width="1" height="15" fill="#26a69a"/>
<path d="M509 470h3v13h-3zM510 471v11h1v-11z" fill-rule="evenodd" fill="#26a69a"/>
<rect x="506" y="464" width="1" height="31" fill="#ef5350"/>
<rect x="505" y="465" width="3" height="23" fill="#ef5350"/>
<rect x="503" y="470" width="1" height="2" fill="#26a69a"/>
<rect x="503" y="510" width="1" height="9" fill="#26a69a"/>
<path d="M502 472h3v38h-3zM503 473v36h1v-36z" fill-rule="evenodd" fill="#26a69a"/>
<rect x="500" y="504" width="1" height="10" fill="#26a69a"/>
<rect x="500" y="519" width="1" height="10" fill="#26a69a"/>
<path d="M499 514h3v5h-3zM500 515v3h1v-3z" fill-rule="evenodd" fill="#26a69a"/>
<rect x="497" y="510" width="1" height="9" fill="#26a69a"/>
<path d="M496 519h3v19h-3zM497 520v17h1v-17z" fill-rule="evenodd" fill="#26a69a"/>
<rect x="493" y="487" width="1" height="55" fill="#ef5350"/>
<rect x="492" y="513" width="3" height="26" fill="#ef5350"/>
<rect x="490" y="485" width="1" height="37" fill="#ef5350"/>
<rect x="489" y="498" width="3" height="19" fill="#ef5350"/>
<rect x="487" y="493" width="1" height="5" fill="#26a69a"/>
<rect x="487" y="508" width="1" height="1" fill="#26a69a"/>
<path d="M486 498h3v10h-3zM487 499v8h1v-8z" fill-rule="evenodd" fill="#26a69a"/>
<rect x="484" y="505" width="1" height="4" fill="#26a69a"/>
<rect x="484" y="532" width="1" height="10" fill="#26a69a"/>
<path d="M483 509h3v23h-3zM484 510v21h1v-21z" fill-rule="evenodd" fill="#26a69a"/>
<rect x="480" y="510" width="1" height="30" fill="#26a69a"/>
<rect x="479" y="529" width="3" height="2" fill="#26a69a"/>
<rect x="477" y="518" width="1" height="56" fill="#ef5350"/>
<rect x="476" y="521" width="3" height="11" fill="#ef5350"/>
<rect x="474" y="515" width="1" height="12" fill="#26a69a"/>
<rect x="474" y="540" width="1" height="4" fill="#26a69a"/>
<path d="M473 527h3v13h-3zM474 528v11h1v-11z" fill-rule="evenodd" fill="#26a69a"/>
<rect x="471" y="513" width="1" height="33" fill="#26a69a"/>
<rect x="470" y="537" width="3" height="4" fill="#26a69a"/>
<rect x="467" y="509" width="1" height="31" fill="#26a69a"/>
<rect x="467" y="574" width="1" height="5" fill="#26a69a"/>
<path d="M466 540h3v34h-3zM467 541v32h1v-32z" fill-rule="evenodd" fill="#26a69a"/>
<rect x="464" y="557" width="1" height="20" fill="#26a69a"/>
<rect x="463" y="566" width="3" height="10" fill="#26a69a"/>
<rect x="461" y="579" width="1" height="1" fill="#26a69a"/>
<rect x="461" y="602" width="1" height="19" fill="#26a69a"/>
<path d="M460 580h3v22h-3zM461 581v20h1v-20z" fill-rule="evenodd" fill="#26a69a"/>
<rect x="458" y="593" width="1" height="10" fill="#26a69a"/>
<rect x="458" y="621" width="1" height="7" fill="#26a69a"/>
<path d="M457 603h3v18h-3zM458 604v16h1v-16z" fill-rule="evenodd" fill="#26a69a"/>
<rect x="454" y="607" width="1" height="21" fill="#ef5350"/>
<rect x="453" y="612" width="3" height="12" fill="#ef5350"/>
<rect x="451" y="604" width="1" height="9" fill="#26a69a"/>
<rect x="451" y="641" width="1" height="1" fill="#26a69a"/>
<path d="M450 613h3v28h-3zM451 614v26h1v-26z" fill-rule="evenodd" fill="#26a69a"/>
<rect x="448" y="630" width="1" height="5" fill="#26a69a"/>
<rect x="448" y="642" width="1" height="2" fill="#26a69a"/>
<path d="M447 635h3v7h-3zM448 636v5h1v-5z" fill-rule="evenodd" fill="#26a69a"/>
<rect x="445" y="629" width="1" height="25" fill="#ef5350"/>
<rect x="444" y="632" width="3" height="6" fill="#ef5350"/>
<rect x="442" y="617" width="1" height="23" fill="#ef5350"/>
<rect x="441" y="619" width="3" height="13" fill="#ef5350"/>
<rect x="438" y="641" width="1" height="3" fill="#26a69a"/>
<path d="M437 625h3v16h-3zM438 626v14h1v-14z" fill-rule="evenodd" fill="#26a69a"/>
<rect x="435" y="619" width="1" height="25" fill="#ef5350"/>
<rect x="434" y="635" width="3" height="7" fill="#ef5350"/>
<rect x="432" y="625" width="1" height="23" fill="#ef5350"/>
<rect x="431" y="627" width="3" height="15" fill="#ef5350"/>
<rect x="429" y="624" width="1" height="4" fill="#26a69a"/>
<path d="M428 628h3v15h-3zM429 629v13h1v-13z" fill-rule="evenodd" fill="#26a69a"/>
<rect x="425" y="620" width="1" height="33" fill="#26a69a"/>
<rect x="424" y="630" width="3" height="2" fill="#26a69a"/>
<rect x="422" y="623" width="1" height="10" fill="#26a69a"/>
<path d="M421 633h3v18h-3zM422 634v16h1v-16z" fill-rule="evenodd" fill="#26a69a"/>
<rect x="419" y="638" width="1" height="27" fill="#ef5350"/>
<rect x="418" y="640" width="3" height="6" fill="#ef5350"/>
<rect x="416" y="640" width="1" height="2" fill="#26a69a"/>
<path d="M415 642h3v12h-3zM416 643v10h1v-10z" fill-rule="evenodd" fill="#26a69a"/>
<rect x="412" y="648" width="1" height="7" fill="#26a69a"/>
<rect x="412" y="661" width="1" height="4" fill="#26a69a"/>
<path d="M411 655h3v6h-3zM412 656v4h1v-4z" fill-rule="evenodd" fill="#26a69a"/>
<rect x="409" y="661" width="1" height="15" fill="#26a69a"/>
<rect x="408" y="663" width="3" height="2" fill="#26a69a"/>
<path d="M405 662h3v15h-3zM406 663v13h1v-13z" fill-rule="evenodd" fill="#26a69a"/>
<rect x="403" y="679" width="1" height="12" fill="#26a69a"/>
<rect x="402" y="679" width="3" height="1" fill="#26a69a"/>
<rect x="399" y="678" width="1" height="9" fill="#ef5350"/>
<rect x="398" y="680" width="3" height="3" fill="#ef5350"/>
<rect x="396" y="690" width="1" height="1" fill="#26a69a"/>
<path d="M395 678h3v12h-3zM396 679v10h1v-10z" fill-rule="evenodd" fill="#26a69a"/>
<rect x="393" y="666" width="1" height="28" fill="#ef5350"/>
<rect x="392" y="677" width="3" height="15" fill="#ef5350"/>
<rect x="390" y="656" width="1" height="31" fill="#26a69a"/>
<rect x="389" y="682" width="3" height="2" fill="#26a69a"/>
<rect x="386" y="682" width="1" height="2" fill="#26a69a"/>
<rect x="386" y="696" width="1" height="2" fill="#26a69a"/>
<path d="M385 684h3v12h-3zM386 685v10h1v-10z" fill-rule="evenodd" fill="#26a69a"/>
<rect x="383" y="690" width="1" height="9" fill="#26a69a"/>
<rect x="383" y="705" width="1" height="3" fill="#26a69a"/>
<path d="M382 699h3v6h-3zM383 700v4h1v-4z" fill-rule="evenodd" fill="#26a69a"/>
<rect x="380" y="696" width="1" height="8" fill="#26a69a"/>
<rect x="380" y="715" width="1" height="1" fill="#26a69a"/>
<path d="M379 704h3v11h-3zM380 705v9h1v-9z" fill-rule="evenodd" fill="#26a69a"/>
<rect x="377" y="717" width="1" height="4" fill="#26a69a"/>
<path d="M376 713h3v4h-3zM377 714v2h1v-2z" fill-rule="evenodd" fill="#26a69a"/>
<rect x="373" y="705" width="1" height="16" fill="#ef5350"/>
<rect x="372" y="717" width="3" height="4" fill="#ef5350"/>
<rect x="370" y="713" width="1" height="13" fill="#ef5350"/>
<rect x="369" y="716" width="3" height="1" fill="#ef5350"/>
<rect x="367" y="728" width="1" height="2" fill="#26a69a"/>
<path d="M366 711h3v17h-3zM367 712v15h1v-15z" fill-rule="evenodd" fill="#26a69a"/>
<rect x="364" y="728" width="1" height="5" fill="#26a69a"/>
<rect x="364" y="738" width="1" height="2" fill="#26a69a"/>
<path d="M363 733h3v5h-3zM364 734v3h1v-3z" fill-rule="evenodd" fill="#26a69a"/>
<rect x="360" y="735" width="1" height="3" fill="#26a69a"/>
<rect x="360" y="746" width="1" height="1" fill="#26a69a"/>
<path d="M359 738h3v8h-3zM360 739v6h1v-6z" fill-rule="evenodd" fill="#26a69a"/>
<rect x="357" y="735" width="1" height="12" fill="#ef5350"/>
<rect x="356" y="737" width="3" height="9" fill="#ef5350"/>
<rect x="354" y="723" width="1" height="20" fill="#ef5350"/>
<rect x="353" y="723" width="3" height="15" fill="#ef5350"/>
<rect x="351" y="719" width="1" height="7" fill="#26a69a"/>
<rect x="351" y="733" width="1" height="7" fill="#26a69a"/>
<path d="M350 726h3v7h-3zM351 727v5h1v-5z" fill-rule="evenodd" fill="#26a69a"/>
<rect x="347" y="739" width="1" height="12" fill="#ef5350"/>
<rect x="346" y="741" width="3" height="4" fill="#ef5350"/>
<rect x="344" y="720" width="1" height="23" fill="#ef5350"/>
<rect x="343" y="731" width="3" height="11" fill="#ef5350"/>
<rect x="341" y="728" width="1" height="6" fill="#26a69a"/>
<rect x="341" y="761" width="1" height="2" fill="#26a69a"/>
<path d="M340 734h3v27h-3zM341 735v25h1v-25z" fill-rule="evenodd" fill="#26a69a"/>
<rect x="338" y="755" width="1" height="13" fill="#ef5350"/>
<rect x="337" y="761" width="3" height="1" fill="#ef5350"/>
<rect x="334" y="741" width="1" height="19" fill="#26a69a"/>
<rect x="334" y="768" width="1" height="7" fill="#26a69a"/>
<path d="M333 760h3v8h-3zM334 761v6h1v-6z" fill-rule="evenodd" fill="#26a69a"/>
<rect x="331" y="760" width="1" height="34" fill="#ef5350"/>
<rect x="330" y="760" width="3" height="13" fill="#ef5350"/>
<rect x="328" y="724" width="1" height="33" fill="#ef5350"/>
<rect x="327" y="728" width="3" height="24" fill="#ef5350"/>
<rect x="325" y="689" width="1" height="32" fill="#26a69a"/>
<path d="M324 721h3v7h-3zM325 722v5h1v-5z" fill-rule="evenodd" fill="#26a69a"/>
<rect x="321" y="705" width="1" height="27" fill="#ef5350"/>
<rect x="320" y="711" width="3" height="17" fill="#ef5350"/>
<rect x="318" y="689" width="1" height="9" fill="#26a69a"/>
<rect x="318" y="701" width="1" height="4" fill="#26a69a"/>
<path d="M317 698h3v3h-3zM318 699v1h1v-1z" fill-rule="evenodd" fill="#26a69a"/>
<rect x="315" y="698" width="1" height="4" fill="#26a69a"/>
<rect x="315" y="712" width="1" height="2" fill="#26a69a"/>
<path d="M314 702h3v10h-3zM315 703v8h1v-8z" fill-rule="evenodd" fill="#26a69a"/>
<rect x="312" y="701" width="1" height="11" fill="#26a69a"/>
<rect x="312" y="717" width="1" height="1" fill="#26a69a"/>
<path d="M311 712h3v5h-3zM312 713v3h1v-3z" fill-rule="evenodd" fill="#26a69a"/>
<rect x="308" y="714" width="1" height="7" fill="#ef5350"/>
<rect x="307" y="715" width="3" height="2" fill="#ef5350"/>
<rect x="305" y="709" width="1" height="7" fill="#26a69a"/>
<rect x="305" y="720" width="1" height="2" fill="#26a69a"/>
<path d="M304 716h3v4h-3zM305 717v2h1v-2z" fill-rule="evenodd" fill="#26a69a"/>
<rect x="302" y="718" width="1" height="1" fill="#26a69a"/>
<rect x="302" y="725" width="1" height="2" fill="#26a69a"/>
<path d="M301 719h3v6h-3zM302 720v4h1v-4z" fill-rule="evenodd" fill="#26a69a"/>
<rect x="299" y="726" width="1" height="1" fill="#26a69a"/>
<rect x="299" y="741" width="1" height="1" fill="#26a69a"/>
<path d="M298 727h3v14h-3zM299 728v12h1v-12z" fill-rule="evenodd" fill="#26a69a"/>
<rect x="295" y="738" width="1" height="4" fill="#26a69a"/>
<rect x="294" y="739" width="3" height="2" fill="#26a69a"/>
<rect x="292" y="734" width="1" height="8" fill="#ef5350"/>
<rect x="291" y="735" width="3" height="7" fill="#ef5350"/>
<rect x="289" y="732" width="1" height="9" fill="#ef5350"/>
<rect x="288" y="732" width="3" height="8" fill="#ef5350"/>
<rect x="286" y="731" width="1" height="11" fill="#ef5350"/>
<rect x="285" y="731" width="3" height="4" fill="#ef5350"/>
<rect x="283" y="723" width="1" height="8" fill="#26a69a"/>
<rect x="283" y="741" width="1" height="1" fill="#26a69a"/>
<path d="M282 731h3v10h-3zM283 732v8h1v-8z" fill-rule="evenodd" fill="#26a69a"/>
<rect x="279" y="740" width="1" height="1" fill="#26a69a"/>
<rect x="279" y="756" width="1" height="1" fill="#26a69a"/>
<path d="M278 741h3v15h-3zM279 742v13h1v-13z" fill-rule="evenodd" fill="#26a69a"/>
<rect x="276" y="754" width="1" height="5" fill="#ef5350"/>
<rect x="275" y="755" width="3" height="3" fill="#ef5350"/>
<rect x="273" y="751" width="1" height="6" fill="#ef5350"/>
<rect x="272" y="752" width="3" height="4" fill="#ef5350"/>
<rect x="270" y="750" width="1" height="3" fill="#ef5350"/>
<rect x="269" y="750" width="3" height="2" fill="#ef5350"/>
<rect x="266" y="749" width="1" height="3" fill="#26a69a"/>
<rect x="265" y="750" width="3" height="2" fill="#26a69a"/>
<rect x="263" y="748" width="1" height="9" fill="#26a69a"/>
<rect x="262" y="752" width="3" height="2" fill="#26a69a"/>
<rect x="260" y="750" width="1" height="2" fill="#26a69a"/>
<rect x="260" y="763" width="1" height="2" fill="#26a69a"/>
<path d="M259 752h3v11h-3zM260 753v9h1v-9z" fill-rule="evenodd" fill="#26a69a"/>
<rect x="257" y="758" width="1" height="2" fill="#26a69a"/>
<rect x="257" y="767" width="1" height="1" fill="#26a69a"/>
<path d="M256 760h3v7h-3zM257 761v5h1v-5z" fill-rule="evenodd" fill="#26a69a"/>
<rect x="253" y="765" width="1" height="3" fill="#ef5350"/>
<rect x="252" y="766" width="3" height="2" fill="#ef5350"/>
<rect x="250" y="764" width="1" height="1" fill="#26a69a"/>
<rect x="250" y="769" width="1" height="1" fill="#26a69a"/>
<path d="M249 765h3v4h-3zM250 766v2h1v-2z" fill-rule="evenodd" fill="#26a69a"/>
<rect x="247" y="764" width="1" height="7" fill="#ef5350"/>
<rect x="246" y="765" width="3" height="4" fill="#ef5350"/>
<rect x="244" y="762" width="1" height="3" fill="#26a69a"/>
<rect x="244" y="768" width="1" height="2" fill="#26a69a"/>
<path d="M243 765h3v3h-3zM244 766v1h1v-1z" fill-rule="evenodd" fill="#26a69a"/>
<rect x="240" y="765" width="1" height="10" fill="#ef5350"/>
<rect x="239" y="766" width="3" height="2" fill="#ef5350"/>
<rect x="237" y="760" width="1" height="8" fill="#ef5350"/>
<rect x="236" y="760" width="3" height="6" fill="#ef5350"/>
<rect x="234" y="759" width="1" height="1" fill="#26a69a"/>
<rect x="234" y="763" width="1" height="2" fill="#26a69a"/>
<path d="M233 760h3v3h-3zM234 761v1h1v-1z" fill-rule="evenodd" fill="#26a69a"/>
<rect x="231" y="755" width="1" height="9" fill="#ef5350"/>
<rect x="230" y="757" width="3" height="6" fill="#ef5350"/>
<rect x="227" y="755" width="1" height="6" fill="#26a69a"/>
<rect x="226" y="756" width="3" height="2" fill="#26a69a"/>
<rect x="224" y="754" width="1" height="4" fill="#ef5350"/>
<rect x="223" y="755" width="3" height="2" fill="#ef5350"/>
<rect x="221" y="752" width="1" height="4" fill="#ef5350"/>
<rect x="220" y="753" width="3" height="2" fill="#ef5350"/>
<rect x="218" y="753" width="1" height="2" fill="#26a69a"/>
<path d="M217 755h3v7h-3zM218 756v5h1v-5z" fill-rule="evenodd" fill="#26a69a"/>
<rect x="214" y="758" width="1" height="7" fill="#ef5350"/>
<rect x="213" y="759" width="3" height="5" fill="#ef5350"/>
<rect x="211" y="754" width="1" height="1" fill="#26a69a"/>
<rect x="211" y="758" width="1" height="5" fill="#26a69a"/>
<path d="M210 755h3v3h-3zM211 756v1h1v-1z" fill-rule="evenodd" fill="#26a69a"/>
<rect x="208" y="762" width="1" height="6" fill="#26a69a"/>
<rect x="207" y="763" width="3" height="2" fill="#26a69a"/>
<rect x="205" y="763" width="1" height="2" fill="#26a69a"/>
<path d="M204 765h3v3h-3zM205 766v1h1v-1z" fill-rule="evenodd" fill="#26a69a"/>
<rect x="201" y="765" width="1" height="4" fill="#ef5350"/>
<rect x="200" y="766" width="3" height="2" fill="#ef5350"/>
<rect x="198" y="760" width="1" height="8" fill="#ef5350"/>
<rect x="197" y="760" width="3" height="7" fill="#ef5350"/>
<rect x="195" y="756" width="1" height="8" fill="#ef5350"/>
<rect x="194" y="758" width="3" height="3" fill="#ef5350"/>
<rect x="192" y="755" width="1" height="5" fill="#26a69a"/>
<rect x="191" y="757" width="3" height="1" fill="#26a69a"/>
<rect x="188" y="754" width="1" height="8" fill="#ef5350"/>
<rect x="187" y="755" width="3" height="4" fill="#ef5350"/>
<rect x="185" y="753" width="1" height="3" fill="#26a69a"/>
<path d="M184 756h3v6h-3zM185 757v4h1v-4z" fill-rule="evenodd" fill="#26a69a"/>
<rect x="182" y="759" width="1" height="2" fill="#26a69a"/>
<rect x="182" y="768" width="1" height="2" fill="#26a69a"/>
<path d="M181 761h3v7h-3zM182 762v5h1v-5z" fill-rule="evenodd" fill="#26a69a"/>
<rect x="179" y="762" width="1" height="9" fill="#ef5350"/>
<rect x="178" y="763" width="3" height="4" fill="#ef5350"/>
<rect x="175" y="760" width="1" height="6" fill="#26a69a"/>
<rect x="174" y="762" width="3" height="2" fill="#26a69a"/>
<rect x="172" y="766" width="1" height="2" fill="#26a69a"/>
<path d="M171 763h3v3h-3zM172 764v1h1v-1z" fill-rule="evenodd" fill="#26a69a"/>
<rect x="169" y="765" width="1" height="1" fill="#26a69a"/>
<rect x="169" y="770" width="1" height="1" fill="#26a69a"/>
<path d="M168 766h3v4h-3zM169 767v2h1v-2z" fill-rule="evenodd" fill="#26a69a"/>
<rect x="166" y="769" width="1" height="1" fill="#26a69a"/>
<rect x="166" y="774" width="1" height="1" fill="#26a69a"/>
<path d="M165 770h3v4h-3zM166 771v2h1v-2z" fill-rule="evenodd" fill="#26a69a"/>
<rect x="162" y="765" width="1" height="9" fill="#ef5350"/>
<rect x="161" y="768" width="3" height="5" fill="#ef5350"/>
<rect x="159" y="763" width="1" height="12" fill="#ef5350"/>
<rect x="158" y="765" width="3" height="3" fill="#ef5350"/>
<rect x="156" y="764" width="1" height="2" fill="#26a69a"/>
<rect x="156" y="771" width="1" height="1" fill="#26a69a"/>
<path d="M155 766h3v5h-3zM156 767v3h1v-3z" fill-rule="evenodd" fill="#26a69a"/>
<rect x="153" y="763" width="1" height="9" fill="#ef5350"/>
<rect x="152" y="765" width="3" height="6" fill="#ef5350"/>
<rect x="149" y="770" width="1" height="1" fill="#26a69a"/>
<path d="M148 764h3v6h-3zM149 765v4h1v-4z" fill-rule="evenodd" fill="#26a69a"/>
<rect x="146" y="768" width="1" height="2" fill="#26a69a"/>
<rect x="146" y="780" width="1" height="1" fill="#26a69a"/>
<path d="M145 770h3v10h-3zM146 771v8h1v-8z" fill-rule="evenodd" fill="#26a69a"/>
<rect x="143" y="766" width="1" height="15" fill="#ef5350"/>
<rect x="142" y="770" width="3" height="10" fill="#ef5350"/>
<rect x="140" y="764" width="1" height="7" fill="#ef5350"/>
<rect x="139" y="768" width="3" height="2" fill="#ef5350"/>
<rect x="136" y="762" width="1" height="8" fill="#ef5350"/>
<rect x="135" y="763" width="3" height="6" fill="#ef5350"/>
<rect x="133" y="762" width="1" height="1" fill="#26a69a"/>
<path d="M132 763h3v15h-3zM133 764v13h1v-13z" fill-rule="evenodd" fill="#26a69a"/>
<rect x="130" y="772" width="1" height="8" fill="#ef5350"/>
<rect x="129" y="774" width="3" height="4" fill="#ef5350"/>
<rect x="127" y="771" width="1" height="2" fill="#26a69a"/>
<rect x="127" y="783" width="1" height="4" fill="#26a69a"/>
<path d="M126 773h3v10h-3zM127 774v8h1v-8z" fill-rule="evenodd" fill="#26a69a"/>
<rect x="124" y="781" width="1" height="3" fill="#ef5350"/>
<rect x="123" y="782" width="3" height="2" fill="#ef5350"/>
<rect x="120" y="777" width="1" height="9" fill="#ef5350"/>
<rect x="119" y="778" width="3" height="4" fill="#ef5350"/>
<rect x="117" y="768" width="1" height="10" fill="#ef5350"/>
<rect x="116" y="768" width="3" height="9" fill="#ef5350"/>
<rect x="114" y="757" width="1" height="14" fill="#ef5350"/>
<rect x="113" y="759" width="3" height="10" fill="#ef5350"/>
<rect x="111" y="756" width="1" height="3" fill="#26a69a"/>
<path d="M110 759h3v9h-3zM111 760v7h1v-7z" fill-rule="evenodd" fill="#26a69a"/>
<rect x="107" y="759" width="1" height="11" fill="#ef5350"/>
<rect x="106" y="760" width="3" height="7" fill="#ef5350"/>
<rect x="104" y="756" width="1" height="11" fill="#ef5350"/>
<rect x="103" y="759" width="3" height="4" fill="#ef5350"/>
<rect x="101" y="755" width="1" height="4" fill="#26a69a"/>
<rect x="101" y="768" width="1" height="2" fill="#26a69a"/>
<path d="M100 759h3v9h-3zM101 760v7h1v-7z" fill-rule="evenodd" fill="#26a69a"/>
<rect x="98" y="764" width="1" height="2" fill="#26a69a"/>
<rect x="98" y="771" width="1" height="2" fill="#26a69a"/>
<path d="M97 766h3v5h-3zM98 767v3h1v-3z" fill-rule="evenodd" fill="#26a69a"/>
<rect x="94" y="760" width="1" height="13" fill="#ef5350"/>
<rect x="93" y="760" width="3" height="10" fill="#ef5350"/>
<rect x="91" y="755" width="1" height="5" fill="#26a69a"/>
<rect x="91" y="778" width="1" height="4" fill="#26a69a"/>
<path d="M90 760h3v18h-3zM91 761v16h1v-16z" fill-rule="evenodd" fill="#26a69a"/>
<rect x="88" y="764" width="1" height="18" fill="#ef5350"/>
<rect x="87" y="765" width="3" height="12" fill="#ef5350"/>
<rect x="85" y="762" width="1" height="1" fill="#26a69a"/>
<rect x="85" y="768" width="1" height="2" fill="#26a69a"/>
<path d="M84 763h3v5h-3zM85 764v3h1v-3z" fill-rule="evenodd" fill="#26a69a"/>
<rect x="81" y="755" width="1" height="17" fill="#ef5350"/>
<rect x="80" y="755" width="3" height="12" fill="#ef5350"/>
<rect x="78" y="754" width="1" height="1" fill="#26a69a"/>
<rect x="78" y="765" width="1" height="1" fill="#26a69a"/>
<path d="M77 755h3v10h-3zM78 756v8h1v-8z" fill-rule="evenodd" fill="#26a69a"/>
<rect x="75" y="760" width="1" height="5" fill="#ef5350"/>
<rect x="74" y="762" width="3" height="2" fill="#ef5350"/>
<rect x="72" y="742" width="1" height="22" fill="#ef5350"/>
<rect x="71" y="742" width="3" height="22" fill="#ef5350"/>
<rect x="68" y="742" width="1" height="1" fill="#26a69a"/>
<rect x="68" y="753" width="1" height="1" fill="#26a69a"/>
<path d="M67 743h3v10h-3zM68 744v8h1v-8z" fill-rule="evenodd" fill="#26a69a"/>
<rect x="65" y="752" width="1" height="1" fill="#26a69a"/>
<rect x="65" y="759" width="1" height="1" fill="#26a69a"/>
<path d="M64 753h3v6h-3zM65 754v4h1v-4z" fill-rule="evenodd" fill="#26a69a"/>
<rect x="62" y="756" width="1" height="7" fill="#ef5350"/>
<rect x="61" y="757" width="3" height="3" fill="#ef5350"/>
<rect x="59" y="752" width="1" height="6" fill="#ef5350"/>
<rect x="58" y="754" width="3" height="3" fill="#ef5350"/>
<rect x="55" y="750" width="1" height="2" fill="#26a69a"/>
<rect x="55" y="756" width="1" height="1" fill="#26a69a"/>
<path d="M54 752h3v4h-3zM55 753v2h1v-2z" fill-rule="evenodd" fill="#26a69a"/>
<rect x="52" y="749" width="1" height="8" fill="#26a69a"/>
<rect x="52" y="761" width="1" height="1" fill="#26a69a"/>
<path d="M51 757h3v4h-3zM52 758v2h1v-2z" fill-rule="evenodd" fill="#26a69a"/>
<rect x="49" y="749" width="1" height="13" fill="#ef5350"/>
<rect x="48" y="754" width="3" height="7" fill="#ef5350"/>
<rect x="46" y="748" width="1" height="14" fill="#ef5350"/>
<rect x="45" y="748" width="3" height="10" fill="#ef5350"/>
<rect x="42" y="746" width="1" height="2" fill="#26a69a"/>
<rect x="42" y="753" width="1" height="1" fill="#26a69a"/>
<path d="M41 748h3v5h-3zM42 749v3h1v-3z" fill-rule="evenodd" fill="#26a69a"/>
<rect x="39" y="744" width="1" height="13" fill="#ef5350"/>
<rect x="38" y="744" width="3" height="8" fill="#ef5350"/>
<rect x="36" y="741" width="1" height="6" fill="#26a69a"/>
<rect x="35" y="742" width="3" height="4" fill="#26a69a"/>
<rect x="33" y="738" width="1" height="9" fill="#ef5350"/>
<rect x="32" y="743" width="3" height="3" fill="#ef5350"/>
<rect x="29" y="742" width="1" height="2" fill="#26a69a"/>
<rect x="29" y="751" width="1" height="2" fill="#26a69a"/>
<path d="M28 744h3v7h-3zM29 745v5h1v-5z" fill-rule="evenodd" fill="#26a69a"/>
<rect x="26" y="750" width="1" height="8" fill="#ef5350"/>
<rect x="25" y="752" width="3" height="2" fill="#ef5350"/>
<rect x="23" y="748" width="1" height="2" fill="#26a69a"/>
<rect x="23" y="754" width="1" height="2" fill="#26a69a"/>
<path d="M22 750h3v4h-3zM23 751v2h1v-2z" fill-rule="evenodd" fill="#26a69a"/>
<rect x="20" y="750" width="1" height="6" fill="#26a69a"/>
<rect x="19" y="752" width="3" height="2" fill="#26a69a"/>
<rect x="16" y="752" width="1" height="1" fill="#26a69a"/>
<rect x="16" y="757" width="1" height="1" fill="#26a69a"/>
<path d="M15 753h3v4h-3zM16 754v2h1v-2z" fill-rule="evenodd" fill="#26a69a"/>
<rect x="13" y="757" width="1" height="1" fill="#26a69a"/>
<rect x="13" y="766" width="1" height="1" fill="#26a69a"/>
<path d="M12 758h3v8h-3zM13 759v6h1v-6z" fill-rule="evenodd" fill="#26a69a"/>
<rect x="10" y="758" width="1" height="9" fill="#ef5350"/>
<rect x="9" y="760" width="3" height="6" fill="#ef5350"/>
<rect x="7" y="758" width="1" height="2" fill="#26a69a"/>
<rect x="7" y="765" width="1" height="1" fill="#26a69a"/>
<path d="M6 760h3v5h-3zM7 761v3h1v-3z" fill-rule="evenodd" fill="#26a69a"/>
<rect x="3" y="765" width="1" height="2" fill="#26a69a"/>
<rect x="3" y="771" width="1" height="2" fill="#26a69a"/>
<path d="M2 767h3v4h-3zM3 768v2h1v-2z" fill-rule="evenodd" fill="#26a69a"/>
<rect x="0" y="765" width="1" height="2" fill="#26a69a"/>
<rect x="0" y="772" width="1" height="1" fill="#26a69a"/>
<path d="M-1 767h3v5h-3zM0 768v3h1v-3z" fill-rule="evenodd" fill="#26a69a"/>
</g>
<g id="price-lines" fill="none">
<line x1="-0.1" y1="745.5" x2="1368" y2="745.5" stroke="#f44336" stroke-width="1.1" stroke-dasharray="1.3 1.7"/>
<line x1="-0.1" y1="746.5" x2="1368" y2="746.5" stroke="#2196f3" stroke-width="1.1" stroke-dasharray="1.3 1.7"/>
<line x1="-8" y1="747.5" x2="1368" y2="747.5" stroke="#787b86" stroke-width="1" stroke-dasharray="5 6"/>
<line x1="-8" y1="773.4" x2="1413" y2="773.4" stroke="#787b86" stroke-width="1.2" stroke-dasharray="5 6"/>
<line x1="0" y1="654.5" x2="1413" y2="654.5" stroke="#8f929c" stroke-width="1.05"/>
</g>

<g id="legend" font-size="18.3" stroke-width="0.3">
<text y="132.7"><tspan x="-2.4" fill="#ef5350" stroke="#ef5350" textLength="21.6" lengthAdjust="spacingAndGlyphs">00</tspan><tspan x="27.9" fill="#131722" stroke="#131722" textLength="13.6" lengthAdjust="spacingAndGlyphs">H</tspan><tspan x="42.8" fill="#ef5350" stroke="#ef5350" textLength="48.5" lengthAdjust="spacingAndGlyphs">33,15</tspan><tspan x="99.3" fill="#131722" stroke="#131722" textLength="10.6" lengthAdjust="spacingAndGlyphs">L</tspan><tspan x="110.6" fill="#ef5350" stroke="#ef5350" textLength="48.5" lengthAdjust="spacingAndGlyphs">26,80</tspan><tspan x="168" fill="#131722" stroke="#131722" textLength="12.3" lengthAdjust="spacingAndGlyphs">C</tspan><tspan x="181" fill="#ef5350" stroke="#ef5350" textLength="48.5" lengthAdjust="spacingAndGlyphs">26,80</tspan></text>
</g>
<g id="flash" fill="none" stroke="#9c27b0">
<circle cx="1068.5" cy="954.4" r="14.3" stroke-width="2"/>
<path d="M1074.2 945.8 L1061.2 956.6 L1067.6 956.6 L1063 963.2 L1076 952.4 L1069.4 952.4 Z" fill="#9c27b0" stroke="#9c27b0" stroke-width="0.6" stroke-linejoin="round"/>
</g>
</g>
<g id="frame" fill="#dddfe5" shape-rendering="crispEdges">
<rect x="0" y="101" width="1494" height="1"/>
<rect x="1413" y="51" width="1" height="965"/>
<rect x="0" y="974" width="1494" height="1"/>
<rect x="0" y="1016" width="1494" height="1"/>
</g>
<g id="axis-boxes">
<rect x="1414" y="102" width="80" height="49.6" fill="#fff"/>
<rect x="1419.5" y="108.5" width="68" height="37" rx="5" fill="#fff" stroke="#e0e3eb"/>
<text x="1425" y="133" font-size="17.2" fill="#131722" stroke="#131722" stroke-width="0.3" textLength="31.5" lengthAdjust="spacingAndGlyphs">EUR</text>
<path d="M1473 125.3 L1477 129.3 L1481 125.3" fill="none" stroke="#131722" stroke-width="1.8"/>
<path d="M1413 641 h64 a2 2 0 0 1 2 2 v23 a2 2 0 0 1 -2 2 h-64 z" fill="#9598a1"/>
<text x="1427.6" y="659.8" font-size="18" fill="#131722" stroke="#131722" stroke-width="0.3" textLength="43.6" lengthAdjust="spacingAndGlyphs">44,35</text>
<path d="M1371 732 h41 v27 h-41 a3 3 0 0 1 -3 -3 v-21 a3 3 0 0 1 3 -3 z" fill="#ef5350"/>
<text x="1391" y="751.6" font-size="17.8" fill="#fff" text-anchor="middle" textLength="29" lengthAdjust="spacingAndGlyphs" stroke="#fff" stroke-width="0.5">ST5</text>
<path d="M1413 732 h64 a2 2 0 0 1 2 2 v46 h-66 z" fill="#ef5350"/>
<text x="1427.6" y="750.6" font-size="18" fill="#fff" stroke="#fff" stroke-width="0.45" textLength="43.6" lengthAdjust="spacingAndGlyphs">26,80</text>
<text x="1427.6" y="771.4" font-size="18" fill="#fff" fill-opacity="0.75" stroke="#fff" stroke-opacity="0.75" stroke-width="0.45" textLength="43.6" lengthAdjust="spacingAndGlyphs">2d 6h</text>
<path d="M1413 780 h66 v49 a2 2 0 0 1 -2 2 h-64 z" fill="#787b86"/>
<text x="1427.6" y="797.8" font-size="18" fill="#fff" stroke="#fff" stroke-width="0.45" textLength="43.6" lengthAdjust="spacingAndGlyphs">26,55</text>
<text x="1427.6" y="822.8" font-size="18" fill="#fff" stroke="#fff" stroke-width="0.45" textLength="43.6" lengthAdjust="spacingAndGlyphs">21,60</text>
</g>

<g id="axis-time">
<text x="127.5" y="1001.8" text-anchor="middle" font-size="18" fill="#131722" stroke="#131722" stroke-width="0.55" textLength="40.3" lengthAdjust="spacingAndGlyphs">2019</text>
<text x="299.5" y="1001.8" text-anchor="middle" font-size="18" fill="#131722" stroke="#131722" stroke-width="0.55" textLength="40.3" lengthAdjust="spacingAndGlyphs">2020</text>
<text x="468.5" y="1001.8" text-anchor="middle" font-size="18" fill="#131722" stroke="#131722" stroke-width="0.55" textLength="40.3" lengthAdjust="spacingAndGlyphs">2021</text>
<text x="636.5" y="1001.8" text-anchor="middle" font-size="18" fill="#131722" stroke="#131722" stroke-width="0.55" textLength="40.3" lengthAdjust="spacingAndGlyphs">2022</text>
<text x="805.5" y="1001.8" text-anchor="middle" font-size="18" fill="#131722" stroke="#131722" stroke-width="0.55" textLength="40.3" lengthAdjust="spacingAndGlyphs">2023</text>
<text x="974.5" y="1001.8" text-anchor="middle" font-size="18" fill="#131722" stroke="#131722" stroke-width="0.55" textLength="40.3" lengthAdjust="spacingAndGlyphs">2024</text>
<text x="1146.5" y="1001.8" text-anchor="middle" font-size="18" fill="#131722" stroke="#131722" stroke-width="0.55" textLength="40.3" lengthAdjust="spacingAndGlyphs">2025</text>
<text x="1314.5" y="1001.8" text-anchor="middle" font-size="18" fill="#131722" stroke="#131722" stroke-width="0.55" textLength="40.3" lengthAdjust="spacingAndGlyphs">2026</text>
</g>
<g id="gear" fill="none" stroke="#131722" stroke-width="1.6" stroke-linejoin="round">
<path d="M1449.3 987.2 h10.2 l5.1 8.8 l-5.1 8.8 h-10.2 l-5.1 -8.8 z"/>
<circle cx="1454.4" cy="996" r="3"/>
</g>
</svg>
<div id="topbar"><div class="card"></div>
<span class="msg">en täglichen Gebrauch einstellen?</span>
<a>Wie mache ich das?</a>
<div class="btn">Ja, als Standardbrowser einstellen</div>
<svg class="x" viewBox="0 0 12 12"><path d="M1.6 1.6 L10.4 10.4 M10.4 1.6 L1.6 10.4" stroke="#3c4043" stroke-width="2.1" fill="none" stroke-linecap="round"/></svg>
</div>
<div id="bottombar">
<svg width="32" height="32" viewBox="0 0 32 32" fill="none" stroke="#131722" stroke-width="1.6"><path d="M4.5 15.5 V8.3 a3 3 0 0 1 3 -3 H26.8 a3 3 0 0 1 3 3 V25 a3 3 0 0 1 -3 3 H17"/><path d="M4.5 11.3 H29.8"/><path d="M11.7 2 V8 M22.2 2 V8"/><path d="M2 23.4 H13 M8.2 18.4 L13.2 23.4 L8.2 28.4"/></svg>
<span class="clock">13:48:44 (UTC+2)</span><div class="sep"></div><span class="anp">Anp.</span>
</div>
<div id="strip"></div>
</body></html>
